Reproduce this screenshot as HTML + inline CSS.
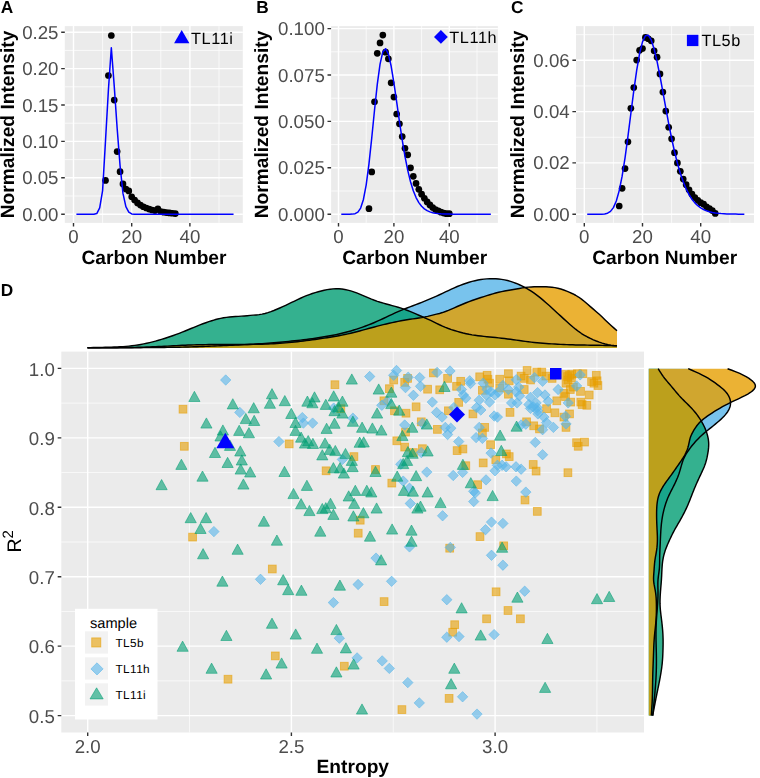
<!DOCTYPE html>
<html><head><meta charset="utf-8"><title>Figure</title>
<style>
html,body{margin:0;padding:0;background:#fff;}
svg{display:block;}
text{font-family:"Liberation Sans", sans-serif;text-rendering:geometricPrecision;}
.tk{font-size:18.7px;fill:#4d4d4d;}
.ttl{font-size:19.2px;font-weight:bold;fill:#000;}
.let{font-size:17.3px;font-weight:bold;fill:#000;}
.lg{font-size:16.3px;fill:#000;letter-spacing:0.6px;}
.lt{font-size:14.6px;fill:#000;}
.ll{font-size:11.8px;fill:#000;letter-spacing:0.4px;}
.r2{font-size:19.6px;fill:#000;}
.ps{fill:#E69F00;fill-opacity:.6;stroke:#E69F00;stroke-opacity:.6;stroke-width:.9;}
.pd{fill:#56B4E9;fill-opacity:.6;stroke:#56B4E9;stroke-opacity:.6;stroke-width:.9;}
.pt{fill:#009E73;fill-opacity:.6;stroke:#009E73;stroke-opacity:.6;stroke-width:.9;}
</style></head>
<body>
<svg width="760" height="778" viewBox="0 0 760 778">
<rect width="760" height="778" fill="#fff"/>
<g opacity="0.9999">
<rect x="64.8" y="26.1" width="178" height="196.8" fill="#ebebeb"/>
<path d="M102.6 26.1V222.9M160.8 26.1V222.9M219 26.1V222.9M64.8 196H242.8M64.8 159.6H242.8M64.8 123.2H242.8M64.8 86.8H242.8M64.8 50.4H242.8" stroke="#fff" stroke-width="0.7" fill="none"/>
<path d="M73.5 26.1V222.9M131.7 26.1V222.9M189.9 26.1V222.9M64.8 214.2H242.8M64.8 177.8H242.8M64.8 141.4H242.8M64.8 105H242.8M64.8 68.6H242.8M64.8 32.2H242.8" stroke="#fff" stroke-width="1.4" fill="none"/>
<path d="M73.5 222.9v3.6M131.7 222.9v3.6M189.9 222.9v3.6M64.8 214.2h-3.6M64.8 177.8h-3.6M64.8 141.4h-3.6M64.8 105h-3.6M64.8 68.6h-3.6M64.8 32.2h-3.6" stroke="#333333" stroke-width="1.4" fill="none"/>
<text x="73.5" y="243.1" text-anchor="middle" class="tk">0</text>
<text x="131.7" y="243.1" text-anchor="middle" class="tk">20</text>
<text x="189.9" y="243.1" text-anchor="middle" class="tk">40</text>
<text x="58.5" y="220.7" text-anchor="end" class="tk">0.00</text>
<text x="58.5" y="184.3" text-anchor="end" class="tk">0.05</text>
<text x="58.5" y="147.9" text-anchor="end" class="tk">0.10</text>
<text x="58.5" y="111.5" text-anchor="end" class="tk">0.15</text>
<text x="58.5" y="75.1" text-anchor="end" class="tk">0.20</text>
<text x="58.5" y="38.7" text-anchor="end" class="tk">0.25</text>
<text x="154" y="264.2" text-anchor="middle" class="ttl">Carbon Number</text>
<text transform="translate(14.3 124.5) rotate(-90)" text-anchor="middle" class="ttl">Normalized Intensity</text>
<text x="0.8" y="13.4" class="let">A</text>
<circle cx="105.51" cy="180.42" r="3.35"/>
<circle cx="108.42" cy="75.52" r="3.35"/>
<circle cx="111.33" cy="35.48" r="3.35"/>
<circle cx="114.24" cy="100.12" r="3.35"/>
<circle cx="117.15" cy="151.59" r="3.35"/>
<circle cx="120.06" cy="171.68" r="3.35"/>
<circle cx="122.97" cy="183.92" r="3.35"/>
<circle cx="125.88" cy="189.01" r="3.35"/>
<circle cx="128.79" cy="190.9" r="3.35"/>
<circle cx="131.7" cy="196.73" r="3.35"/>
<circle cx="134.61" cy="200" r="3.35"/>
<circle cx="137.52" cy="202.92" r="3.35"/>
<circle cx="140.43" cy="205.1" r="3.35"/>
<circle cx="143.34" cy="206.77" r="3.35"/>
<circle cx="146.25" cy="208.01" r="3.35"/>
<circle cx="149.16" cy="209.1" r="3.35"/>
<circle cx="152.07" cy="209.98" r="3.35"/>
<circle cx="154.98" cy="210.56" r="3.35"/>
<circle cx="157.89" cy="208.89" r="3.35"/>
<circle cx="160.8" cy="211.58" r="3.35"/>
<circle cx="163.71" cy="212.16" r="3.35"/>
<circle cx="166.62" cy="212.6" r="3.35"/>
<circle cx="169.53" cy="212.96" r="3.35"/>
<circle cx="172.44" cy="213.25" r="3.35"/>
<circle cx="175.35" cy="213.62" r="3.35"/>
<path d="M76.41 214.2L79.32 214.2L82.23 214.2L85.14 214.2L88.05 214.2L90.96 214.2L93.87 214.2L96.78 213.54L99.69 207.94L102.6 190.61L105.51 140.67L108.42 89.71L111.33 47.78L114.24 86.07L117.15 128.3L120.06 165.57L122.97 193.38L125.88 206.56L128.79 212.09L131.7 213.91L134.61 214.2L137.52 214.2L140.43 214.2L143.34 214.2L146.25 214.2L149.16 214.2L152.07 214.2L154.98 214.2L157.89 214.2L160.8 214.2L163.71 214.2L166.62 214.2L169.53 214.2L172.44 214.2L175.35 214.2L178.26 214.2L181.17 214.2L184.08 214.2L186.99 214.2L189.9 214.2L192.81 214.2L195.72 214.2L198.63 214.2L201.54 214.2L204.45 214.2L207.36 214.2L210.27 214.2L213.18 214.2L216.09 214.2L219 214.2L221.91 214.2L224.82 214.2L227.73 214.2L230.64 214.2L233.55 214.2" stroke="#0000ff" stroke-width="1.5" fill="none" stroke-linejoin="round"/>
<path d="M181.7 30.1L189.4 43.2H174.1Z" fill="#0000ff"/><text x="191" y="44.1" class="lg">TL11i</text>
<rect x="331.1" y="26.1" width="166.8" height="196.8" fill="#ebebeb"/>
<path d="M366.2 26.1V222.9M421.6 26.1V222.9M477 26.1V222.9M331.1 191H497.9M331.1 144.6H497.9M331.1 98.2H497.9M331.1 51.8H497.9" stroke="#fff" stroke-width="0.7" fill="none"/>
<path d="M338.5 26.1V222.9M393.9 26.1V222.9M449.3 26.1V222.9M331.1 214.2H497.9M331.1 167.8H497.9M331.1 121.4H497.9M331.1 75H497.9M331.1 28.6H497.9" stroke="#fff" stroke-width="1.4" fill="none"/>
<path d="M338.5 222.9v3.6M393.9 222.9v3.6M449.3 222.9v3.6M331.1 214.2h-3.6M331.1 167.8h-3.6M331.1 121.4h-3.6M331.1 75h-3.6M331.1 28.6h-3.6" stroke="#333333" stroke-width="1.4" fill="none"/>
<text x="338.5" y="243.1" text-anchor="middle" class="tk">0</text>
<text x="393.9" y="243.1" text-anchor="middle" class="tk">20</text>
<text x="449.3" y="243.1" text-anchor="middle" class="tk">40</text>
<text x="324.8" y="220.7" text-anchor="end" class="tk">0.000</text>
<text x="324.8" y="174.3" text-anchor="end" class="tk">0.025</text>
<text x="324.8" y="127.9" text-anchor="end" class="tk">0.050</text>
<text x="324.8" y="81.5" text-anchor="end" class="tk">0.075</text>
<text x="324.8" y="35.1" text-anchor="end" class="tk">0.100</text>
<text x="414.7" y="264.2" text-anchor="middle" class="ttl">Carbon Number</text>
<text transform="translate(268 124.5) rotate(-90)" text-anchor="middle" class="ttl">Normalized Intensity</text>
<text x="256.2" y="13.4" class="let">B</text>
<circle cx="368.97" cy="208.63" r="3.35"/>
<circle cx="371.74" cy="171.88" r="3.35"/>
<circle cx="374.51" cy="101.73" r="3.35"/>
<circle cx="377.28" cy="53.28" r="3.35"/>
<circle cx="380.05" cy="42.89" r="3.35"/>
<circle cx="382.82" cy="35.1" r="3.35"/>
<circle cx="385.59" cy="52.17" r="3.35"/>
<circle cx="388.36" cy="58.85" r="3.35"/>
<circle cx="391.13" cy="82.8" r="3.35"/>
<circle cx="393.9" cy="97.09" r="3.35"/>
<circle cx="396.67" cy="113.98" r="3.35"/>
<circle cx="399.44" cy="123.81" r="3.35"/>
<circle cx="402.21" cy="136.62" r="3.35"/>
<circle cx="404.98" cy="148.31" r="3.35"/>
<circle cx="407.75" cy="154.81" r="3.35"/>
<circle cx="410.52" cy="167.8" r="3.35"/>
<circle cx="413.29" cy="176.34" r="3.35"/>
<circle cx="416.06" cy="183.39" r="3.35"/>
<circle cx="418.83" cy="189.33" r="3.35"/>
<circle cx="421.6" cy="194.16" r="3.35"/>
<circle cx="424.37" cy="198.24" r="3.35"/>
<circle cx="427.14" cy="201.95" r="3.35"/>
<circle cx="429.91" cy="204.92" r="3.35"/>
<circle cx="432.68" cy="207.52" r="3.35"/>
<circle cx="435.45" cy="209.56" r="3.35"/>
<circle cx="438.22" cy="210.86" r="3.35"/>
<circle cx="440.99" cy="212.16" r="3.35"/>
<circle cx="443.76" cy="213.09" r="3.35"/>
<circle cx="446.53" cy="213.64" r="3.35"/>
<circle cx="449.3" cy="213.64" r="3.35"/>
<path d="M341.27 214.2L344.04 214.2L346.81 214.2L349.58 214.19L352.35 214.12L355.12 213.71L357.89 212.18L360.66 208.06L363.43 199.47L366.2 184.84L368.97 163.85L371.74 137.97L374.51 110.2L377.28 84.4L380.05 64.13L382.82 51.9L385.59 48.67L388.36 53.91L391.13 66.01L393.9 82.76L396.67 101.92L399.44 121.49L402.21 139.98L404.98 156.44L407.75 170.41L410.52 181.79L413.29 190.73L416.06 197.56L418.83 202.62L421.6 206.28L424.37 208.88L427.14 210.68L429.91 211.9L432.68 212.72L435.45 213.26L438.22 213.61L440.99 213.83L443.76 213.98L446.53 214.06L449.3 214.12L452.07 214.15L454.84 214.17L457.61 214.18L460.38 214.19L463.15 214.19L465.92 214.2L468.69 214.2L471.46 214.2L474.23 214.2L477 214.2L479.77 214.2L482.54 214.2L485.31 214.2L488.08 214.2L490.85 214.2" stroke="#0000ff" stroke-width="1.5" fill="none" stroke-linejoin="round"/>
<path d="M440.9 30L447.8 36.9L440.9 43.8L434 36.9Z" fill="#0000ff"/><text x="449.3" y="42.9" class="lg">TL11h</text>
<rect x="576" y="26.1" width="178" height="196.8" fill="#ebebeb"/>
<path d="M613.4 26.1V222.9M671.6 26.1V222.9M729.8 26.1V222.9M576 188.55H754M576 137.25H754M576 85.95H754M576 34.65H754" stroke="#fff" stroke-width="0.7" fill="none"/>
<path d="M584.3 26.1V222.9M642.5 26.1V222.9M700.7 26.1V222.9M576 214.2H754M576 162.9H754M576 111.6H754M576 60.3H754" stroke="#fff" stroke-width="1.4" fill="none"/>
<path d="M584.3 222.9v3.6M642.5 222.9v3.6M700.7 222.9v3.6M576 214.2h-3.6M576 162.9h-3.6M576 111.6h-3.6M576 60.3h-3.6" stroke="#333333" stroke-width="1.4" fill="none"/>
<text x="584.3" y="243.1" text-anchor="middle" class="tk">0</text>
<text x="642.5" y="243.1" text-anchor="middle" class="tk">20</text>
<text x="700.7" y="243.1" text-anchor="middle" class="tk">40</text>
<text x="569.7" y="220.7" text-anchor="end" class="tk">0.00</text>
<text x="569.7" y="169.4" text-anchor="end" class="tk">0.02</text>
<text x="569.7" y="118.1" text-anchor="end" class="tk">0.04</text>
<text x="569.7" y="66.8" text-anchor="end" class="tk">0.06</text>
<text x="664.7" y="264.2" text-anchor="middle" class="ttl">Carbon Number</text>
<text transform="translate(524 124.5) rotate(-90)" text-anchor="middle" class="ttl">Normalized Intensity</text>
<text x="511" y="13.4" class="let">C</text>
<circle cx="619.22" cy="205.99" r="3.35"/>
<circle cx="622.13" cy="188.29" r="3.35"/>
<circle cx="625.04" cy="168.54" r="3.35"/>
<circle cx="627.95" cy="141.87" r="3.35"/>
<circle cx="630.86" cy="108.27" r="3.35"/>
<circle cx="633.77" cy="87.49" r="3.35"/>
<circle cx="636.68" cy="60.04" r="3.35"/>
<circle cx="639.59" cy="50.3" r="3.35"/>
<circle cx="642.5" cy="48.5" r="3.35"/>
<circle cx="645.41" cy="37.47" r="3.35"/>
<circle cx="648.32" cy="38.75" r="3.35"/>
<circle cx="651.23" cy="40.81" r="3.35"/>
<circle cx="654.14" cy="50.81" r="3.35"/>
<circle cx="657.05" cy="57.22" r="3.35"/>
<circle cx="659.96" cy="73.89" r="3.35"/>
<circle cx="662.87" cy="92.11" r="3.35"/>
<circle cx="665.78" cy="111.09" r="3.35"/>
<circle cx="668.69" cy="127.25" r="3.35"/>
<circle cx="671.6" cy="138.79" r="3.35"/>
<circle cx="674.51" cy="152.64" r="3.35"/>
<circle cx="677.42" cy="162.9" r="3.35"/>
<circle cx="680.33" cy="171.36" r="3.35"/>
<circle cx="683.24" cy="179.06" r="3.35"/>
<circle cx="686.15" cy="184.7" r="3.35"/>
<circle cx="689.06" cy="189.83" r="3.35"/>
<circle cx="691.97" cy="194.19" r="3.35"/>
<circle cx="694.88" cy="197.53" r="3.35"/>
<circle cx="697.79" cy="200.35" r="3.35"/>
<circle cx="700.7" cy="202.66" r="3.35"/>
<circle cx="703.61" cy="204.2" r="3.35"/>
<circle cx="706.52" cy="206.76" r="3.35"/>
<circle cx="709.43" cy="208.56" r="3.35"/>
<circle cx="712.34" cy="210.61" r="3.35"/>
<circle cx="715.25" cy="213.43" r="3.35"/>
<path d="M587.21 214.2L590.12 214.2L593.03 214.2L595.94 214.2L598.85 214.19L601.76 214.13L604.67 213.9L607.58 213.16L610.49 211.34L613.4 207.59L616.31 200.96L619.22 190.62L622.13 176.17L625.04 157.79L627.95 136.4L630.86 113.47L633.77 90.81L636.68 70.32L639.59 53.61L642.5 41.88L645.41 35.74L648.32 35.24L651.23 39.92L654.14 48.98L657.05 61.38L659.96 76.02L662.87 91.86L665.78 107.96L668.69 123.61L671.6 138.24L674.51 151.51L677.42 163.21L680.33 173.3L683.24 181.82L686.15 188.88L689.06 194.63L691.97 199.23L694.88 202.87L697.79 205.71L700.7 207.9L703.61 209.56L706.52 210.82L709.43 211.75L712.34 212.44L715.25 212.95L718.16 213.31L721.07 213.58L723.98 213.76L726.89 213.9L729.8 213.99L732.71 214.06L735.62 214.1L738.53 214.13L741.44 214.15L744.35 214.17" stroke="#0000ff" stroke-width="1.5" fill="none" stroke-linejoin="round"/>
<rect x="686.9" y="34.8" width="11.5" height="11.3" fill="#0000ff"/><text x="701.4" y="46.4" class="lg">TL5b</text>
<text x="0.8" y="295.6" class="let">D</text>
<rect x="61.3" y="351.6" width="582.7" height="380.9" fill="#ebebeb"/>
<path d="M189.55 351.6V732.5M393.25 351.6V732.5M596.95 351.6V732.5M61.3 680.88H644M61.3 611.44H644M61.3 542H644M61.3 472.56H644M61.3 403.12H644" stroke="#fff" stroke-width="0.7" fill="none"/>
<path d="M87.7 351.6V732.5M291.4 351.6V732.5M495.1 351.6V732.5M61.3 715.6H644M61.3 646.16H644M61.3 576.72H644M61.3 507.28H644M61.3 437.84H644M61.3 368.4H644" stroke="#fff" stroke-width="1.4" fill="none"/>
<path d="M87.7 732.5v3.6M291.4 732.5v3.6M495.1 732.5v3.6M61.3 715.6h-3.6M61.3 646.16h-3.6M61.3 576.72h-3.6M61.3 507.28h-3.6M61.3 437.84h-3.6M61.3 368.4h-3.6" stroke="#333333" stroke-width="1.4" fill="none"/>
<text x="87.7" y="752.7" text-anchor="middle" class="tk">2.0</text>
<text x="291.4" y="752.7" text-anchor="middle" class="tk">2.5</text>
<text x="495.1" y="752.7" text-anchor="middle" class="tk">3.0</text>
<text x="54.8" y="722.9" text-anchor="end" class="tk">0.5</text>
<text x="54.8" y="653.46" text-anchor="end" class="tk">0.6</text>
<text x="54.8" y="584.02" text-anchor="end" class="tk">0.7</text>
<text x="54.8" y="514.58" text-anchor="end" class="tk">0.8</text>
<text x="54.8" y="445.14" text-anchor="end" class="tk">0.9</text>
<text x="54.8" y="375.7" text-anchor="end" class="tk">1.0</text>
<text x="352.8" y="773.4" text-anchor="middle" class="ttl">Entropy</text>
<text transform="translate(21.3 552.6) rotate(-90)" class="r2">R<tspan dy="-8.7" font-size="15">2</tspan></text>
<rect x="179.1" y="405.3" width="7.8" height="7.8" class="ps"/>
<rect x="180.4" y="442.4" width="7.8" height="7.8" class="ps"/>
<rect x="331" y="380.8" width="7.8" height="7.8" class="ps"/>
<rect x="336.9" y="404.8" width="7.8" height="7.8" class="ps"/>
<rect x="380" y="396.9" width="7.8" height="7.8" class="ps"/>
<rect x="385.5" y="384.8" width="7.8" height="7.8" class="ps"/>
<rect x="389.8" y="376.1" width="7.8" height="7.8" class="ps"/>
<rect x="390.6" y="406.9" width="7.8" height="7.8" class="ps"/>
<rect x="402.1" y="409.3" width="7.8" height="7.8" class="ps"/>
<rect x="412.2" y="402.9" width="7.8" height="7.8" class="ps"/>
<rect x="400.8" y="378.5" width="7.8" height="7.8" class="ps"/>
<rect x="403.7" y="374.5" width="7.8" height="7.8" class="ps"/>
<rect x="423.7" y="385.3" width="7.8" height="7.8" class="ps"/>
<rect x="417.4" y="417.9" width="7.8" height="7.8" class="ps"/>
<rect x="429.5" y="369" width="7.8" height="7.8" class="ps"/>
<rect x="443.7" y="374.5" width="7.8" height="7.8" class="ps"/>
<rect x="435.8" y="385.9" width="7.8" height="7.8" class="ps"/>
<rect x="452.7" y="382.4" width="7.8" height="7.8" class="ps"/>
<rect x="456.8" y="377.4" width="7.8" height="7.8" class="ps"/>
<rect x="454.8" y="398.5" width="7.8" height="7.8" class="ps"/>
<rect x="444.5" y="406.9" width="7.8" height="7.8" class="ps"/>
<rect x="469" y="410" width="7.8" height="7.8" class="ps"/>
<rect x="475.8" y="372.9" width="7.8" height="7.8" class="ps"/>
<rect x="483.2" y="371.4" width="7.8" height="7.8" class="ps"/>
<rect x="484" y="375.3" width="7.8" height="7.8" class="ps"/>
<rect x="485.6" y="379.3" width="7.8" height="7.8" class="ps"/>
<rect x="478.5" y="386.4" width="7.8" height="7.8" class="ps"/>
<rect x="495.8" y="375.3" width="7.8" height="7.8" class="ps"/>
<rect x="495.8" y="384" width="7.8" height="7.8" class="ps"/>
<rect x="504.5" y="369.8" width="7.8" height="7.8" class="ps"/>
<rect x="505.3" y="376.9" width="7.8" height="7.8" class="ps"/>
<rect x="504.5" y="390.3" width="7.8" height="7.8" class="ps"/>
<rect x="506.1" y="408.5" width="7.8" height="7.8" class="ps"/>
<rect x="517.2" y="372.2" width="7.8" height="7.8" class="ps"/>
<rect x="520.3" y="374.5" width="7.8" height="7.8" class="ps"/>
<rect x="523.2" y="366.6" width="7.8" height="7.8" class="ps"/>
<rect x="526.6" y="376.1" width="7.8" height="7.8" class="ps"/>
<rect x="532.9" y="368.2" width="7.8" height="7.8" class="ps"/>
<rect x="520.3" y="385.6" width="7.8" height="7.8" class="ps"/>
<rect x="522.7" y="417.9" width="7.8" height="7.8" class="ps"/>
<rect x="529.8" y="421.9" width="7.8" height="7.8" class="ps"/>
<rect x="480.8" y="423.5" width="7.8" height="7.8" class="ps"/>
<rect x="433.5" y="425.5" width="7.8" height="7.8" class="ps"/>
<rect x="537.9" y="368.2" width="7.8" height="7.8" class="ps"/>
<rect x="541.9" y="372.2" width="7.8" height="7.8" class="ps"/>
<rect x="548.2" y="374.5" width="7.8" height="7.8" class="ps"/>
<rect x="561.6" y="370.6" width="7.8" height="7.8" class="ps"/>
<rect x="565.6" y="371.4" width="7.8" height="7.8" class="ps"/>
<rect x="564" y="376.1" width="7.8" height="7.8" class="ps"/>
<rect x="562.1" y="379.3" width="7.8" height="7.8" class="ps"/>
<rect x="567.5" y="374.2" width="7.8" height="7.8" class="ps"/>
<rect x="573.5" y="369.8" width="7.8" height="7.8" class="ps"/>
<rect x="579" y="369.8" width="7.8" height="7.8" class="ps"/>
<rect x="569.5" y="383.2" width="7.8" height="7.8" class="ps"/>
<rect x="576.6" y="387.5" width="7.8" height="7.8" class="ps"/>
<rect x="566.4" y="385.6" width="7.8" height="7.8" class="ps"/>
<rect x="560" y="389.5" width="7.8" height="7.8" class="ps"/>
<rect x="561.6" y="392.7" width="7.8" height="7.8" class="ps"/>
<rect x="585.3" y="391.1" width="7.8" height="7.8" class="ps"/>
<rect x="587.7" y="377.7" width="7.8" height="7.8" class="ps"/>
<rect x="592.4" y="371.4" width="7.8" height="7.8" class="ps"/>
<rect x="593.2" y="376.9" width="7.8" height="7.8" class="ps"/>
<rect x="594" y="381.6" width="7.8" height="7.8" class="ps"/>
<rect x="590" y="379.3" width="7.8" height="7.8" class="ps"/>
<rect x="552.9" y="396.9" width="7.8" height="7.8" class="ps"/>
<rect x="566.8" y="398.2" width="7.8" height="7.8" class="ps"/>
<rect x="576.9" y="398.2" width="7.8" height="7.8" class="ps"/>
<rect x="582.9" y="401.4" width="7.8" height="7.8" class="ps"/>
<rect x="578.2" y="400.6" width="7.8" height="7.8" class="ps"/>
<rect x="542.7" y="404.8" width="7.8" height="7.8" class="ps"/>
<rect x="551" y="408.9" width="7.8" height="7.8" class="ps"/>
<rect x="535.6" y="425" width="7.8" height="7.8" class="ps"/>
<rect x="565.6" y="410" width="7.8" height="7.8" class="ps"/>
<rect x="560" y="413.2" width="7.8" height="7.8" class="ps"/>
<rect x="562.1" y="423.5" width="7.8" height="7.8" class="ps"/>
<rect x="285.3" y="440" width="7.8" height="7.8" class="ps"/>
<rect x="350" y="452.7" width="7.8" height="7.8" class="ps"/>
<rect x="322.2" y="466.9" width="7.8" height="7.8" class="ps"/>
<rect x="371.6" y="465.6" width="7.8" height="7.8" class="ps"/>
<rect x="392.9" y="436.9" width="7.8" height="7.8" class="ps"/>
<rect x="401.6" y="428.2" width="7.8" height="7.8" class="ps"/>
<rect x="400.8" y="443.2" width="7.8" height="7.8" class="ps"/>
<rect x="409.5" y="448.7" width="7.8" height="7.8" class="ps"/>
<rect x="418.5" y="444.8" width="7.8" height="7.8" class="ps"/>
<rect x="387.9" y="479.2" width="7.8" height="7.8" class="ps"/>
<rect x="453.2" y="446.7" width="7.8" height="7.8" class="ps"/>
<rect x="459" y="445.1" width="7.8" height="7.8" class="ps"/>
<rect x="461.9" y="461.8" width="7.8" height="7.8" class="ps"/>
<rect x="479.3" y="459" width="7.8" height="7.8" class="ps"/>
<rect x="478.5" y="429" width="7.8" height="7.8" class="ps"/>
<rect x="486.7" y="440.8" width="7.8" height="7.8" class="ps"/>
<rect x="502.5" y="450" width="7.8" height="7.8" class="ps"/>
<rect x="505.3" y="452.7" width="7.8" height="7.8" class="ps"/>
<rect x="491.9" y="455.8" width="7.8" height="7.8" class="ps"/>
<rect x="529.3" y="460.6" width="7.8" height="7.8" class="ps"/>
<rect x="532.2" y="467.2" width="7.8" height="7.8" class="ps"/>
<rect x="473.7" y="480.8" width="7.8" height="7.8" class="ps"/>
<rect x="521.1" y="496.1" width="7.8" height="7.8" class="ps"/>
<rect x="572.7" y="438.8" width="7.8" height="7.8" class="ps"/>
<rect x="574.3" y="442.4" width="7.8" height="7.8" class="ps"/>
<rect x="580.6" y="438.2" width="7.8" height="7.8" class="ps"/>
<rect x="564" y="468.8" width="7.8" height="7.8" class="ps"/>
<rect x="188.7" y="533.2" width="7.8" height="7.8" class="ps"/>
<rect x="268.4" y="565.1" width="7.8" height="7.8" class="ps"/>
<rect x="356.3" y="516.3" width="7.8" height="7.8" class="ps"/>
<rect x="354.3" y="529.3" width="7.8" height="7.8" class="ps"/>
<rect x="476.1" y="532.7" width="7.8" height="7.8" class="ps"/>
<rect x="533.4" y="507.5" width="7.8" height="7.8" class="ps"/>
<rect x="445.8" y="544.3" width="7.8" height="7.8" class="ps"/>
<rect x="499.8" y="541.9" width="7.8" height="7.8" class="ps"/>
<rect x="271.4" y="652" width="7.8" height="7.8" class="ps"/>
<rect x="380.2" y="597.7" width="7.8" height="7.8" class="ps"/>
<rect x="340.4" y="662.3" width="7.8" height="7.8" class="ps"/>
<rect x="492.2" y="587.9" width="7.8" height="7.8" class="ps"/>
<rect x="504.1" y="606.6" width="7.8" height="7.8" class="ps"/>
<rect x="482.7" y="614.9" width="7.8" height="7.8" class="ps"/>
<rect x="516.5" y="614.9" width="7.8" height="7.8" class="ps"/>
<rect x="450.8" y="620.8" width="7.8" height="7.8" class="ps"/>
<rect x="448.8" y="628.3" width="7.8" height="7.8" class="ps"/>
<rect x="224.1" y="675.3" width="7.8" height="7.8" class="ps"/>
<rect x="398" y="705.7" width="7.8" height="7.8" class="ps"/>
<rect x="445.2" y="694.5" width="7.8" height="7.8" class="ps"/>
<rect x="563.7" y="372.7" width="7.8" height="7.8" class="ps"/>
<rect x="567.8" y="370.3" width="7.8" height="7.8" class="ps"/>
<path d="M225.7 374.8l5.2 5.2l-5.2 5.2l-5.2-5.2Z" class="pd"/>
<path d="M239.8 407.2l5.2 5.2l-5.2 5.2l-5.2-5.2Z" class="pd"/>
<path d="M302.3 412.4l5.2 5.2l-5.2 5.2l-5.2-5.2Z" class="pd"/>
<path d="M303.4 417.9l5.2 5.2l-5.2 5.2l-5.2-5.2Z" class="pd"/>
<path d="M312.6 417.9l5.2 5.2l-5.2 5.2l-5.2-5.2Z" class="pd"/>
<path d="M369.7 371.3l5.2 5.2l-5.2 5.2l-5.2-5.2Z" class="pd"/>
<path d="M333.7 402.9l5.2 5.2l-5.2 5.2l-5.2-5.2Z" class="pd"/>
<path d="M352.9 413l5.2 5.2l-5.2 5.2l-5.2-5.2Z" class="pd"/>
<path d="M381.8 400.1l5.2 5.2l-5.2 5.2l-5.2-5.2Z" class="pd"/>
<path d="M387.4 396.1l5.2 5.2l-5.2 5.2l-5.2-5.2Z" class="pd"/>
<path d="M393.7 370.1l5.2 5.2l-5.2 5.2l-5.2-5.2Z" class="pd"/>
<path d="M396.5 365.3l5.2 5.2l-5.2 5.2l-5.2-5.2Z" class="pd"/>
<path d="M413.4 390.1l5.2 5.2l-5.2 5.2l-5.2-5.2Z" class="pd"/>
<path d="M405.5 382.4l5.2 5.2l-5.2 5.2l-5.2-5.2Z" class="pd"/>
<path d="M408.2 372l5.2 5.2l-5.2 5.2l-5.2-5.2Z" class="pd"/>
<path d="M419.7 372.4l5.2 5.2l-5.2 5.2l-5.2-5.2Z" class="pd"/>
<path d="M420.5 381.1l5.2 5.2l-5.2 5.2l-5.2-5.2Z" class="pd"/>
<path d="M404.7 419.8l5.2 5.2l-5.2 5.2l-5.2-5.2Z" class="pd"/>
<path d="M422.4 418.2l5.2 5.2l-5.2 5.2l-5.2-5.2Z" class="pd"/>
<path d="M437.1 367.2l5.2 5.2l-5.2 5.2l-5.2-5.2Z" class="pd"/>
<path d="M450 365.8l5.2 5.2l-5.2 5.2l-5.2-5.2Z" class="pd"/>
<path d="M469.7 375.6l5.2 5.2l-5.2 5.2l-5.2-5.2Z" class="pd"/>
<path d="M470.5 378.3l5.2 5.2l-5.2 5.2l-5.2-5.2Z" class="pd"/>
<path d="M461.4 384.3l5.2 5.2l-5.2 5.2l-5.2-5.2Z" class="pd"/>
<path d="M463.4 389.8l5.2 5.2l-5.2 5.2l-5.2-5.2Z" class="pd"/>
<path d="M465.8 393l5.2 5.2l-5.2 5.2l-5.2-5.2Z" class="pd"/>
<path d="M432.3 396.9l5.2 5.2l-5.2 5.2l-5.2-5.2Z" class="pd"/>
<path d="M436.6 407.2l5.2 5.2l-5.2 5.2l-5.2-5.2Z" class="pd"/>
<path d="M442.1 411.9l5.2 5.2l-5.2 5.2l-5.2-5.2Z" class="pd"/>
<path d="M453.9 402.4l5.2 5.2l-5.2 5.2l-5.2-5.2Z" class="pd"/>
<path d="M476.5 402.4l5.2 5.2l-5.2 5.2l-5.2-5.2Z" class="pd"/>
<path d="M480.8 404.8l5.2 5.2l-5.2 5.2l-5.2-5.2Z" class="pd"/>
<path d="M479.2 395l5.2 5.2l-5.2 5.2l-5.2-5.2Z" class="pd"/>
<path d="M486.3 389.8l5.2 5.2l-5.2 5.2l-5.2-5.2Z" class="pd"/>
<path d="M489.5 396.9l5.2 5.2l-5.2 5.2l-5.2-5.2Z" class="pd"/>
<path d="M483.2 378l5.2 5.2l-5.2 5.2l-5.2-5.2Z" class="pd"/>
<path d="M487.1 384.3l5.2 5.2l-5.2 5.2l-5.2-5.2Z" class="pd"/>
<path d="M491.1 386.6l5.2 5.2l-5.2 5.2l-5.2-5.2Z" class="pd"/>
<path d="M495 389.8l5.2 5.2l-5.2 5.2l-5.2-5.2Z" class="pd"/>
<path d="M498.2 387.1l5.2 5.2l-5.2 5.2l-5.2-5.2Z" class="pd"/>
<path d="M502.9 380.3l5.2 5.2l-5.2 5.2l-5.2-5.2Z" class="pd"/>
<path d="M508.4 384.3l5.2 5.2l-5.2 5.2l-5.2-5.2Z" class="pd"/>
<path d="M511.6 397.7l5.2 5.2l-5.2 5.2l-5.2-5.2Z" class="pd"/>
<path d="M517.1 397.7l5.2 5.2l-5.2 5.2l-5.2-5.2Z" class="pd"/>
<path d="M494.2 410.8l5.2 5.2l-5.2 5.2l-5.2-5.2Z" class="pd"/>
<path d="M497.4 411.9l5.2 5.2l-5.2 5.2l-5.2-5.2Z" class="pd"/>
<path d="M516.3 374.5l5.2 5.2l-5.2 5.2l-5.2-5.2Z" class="pd"/>
<path d="M534.5 372.4l5.2 5.2l-5.2 5.2l-5.2-5.2Z" class="pd"/>
<path d="M518.7 381.9l5.2 5.2l-5.2 5.2l-5.2-5.2Z" class="pd"/>
<path d="M516.3 386.6l5.2 5.2l-5.2 5.2l-5.2-5.2Z" class="pd"/>
<path d="M519.5 390.6l5.2 5.2l-5.2 5.2l-5.2-5.2Z" class="pd"/>
<path d="M530.5 392.2l5.2 5.2l-5.2 5.2l-5.2-5.2Z" class="pd"/>
<path d="M537.6 387.4l5.2 5.2l-5.2 5.2l-5.2-5.2Z" class="pd"/>
<path d="M536.1 397.7l5.2 5.2l-5.2 5.2l-5.2-5.2Z" class="pd"/>
<path d="M530.5 403.2l5.2 5.2l-5.2 5.2l-5.2-5.2Z" class="pd"/>
<path d="M537.6 405.6l5.2 5.2l-5.2 5.2l-5.2-5.2Z" class="pd"/>
<path d="M528.9 399.3l5.2 5.2l-5.2 5.2l-5.2-5.2Z" class="pd"/>
<path d="M521.1 419.8l5.2 5.2l-5.2 5.2l-5.2-5.2Z" class="pd"/>
<path d="M525.8 419l5.2 5.2l-5.2 5.2l-5.2-5.2Z" class="pd"/>
<path d="M479.2 422.2l5.2 5.2l-5.2 5.2l-5.2-5.2Z" class="pd"/>
<path d="M445.3 422.2l5.2 5.2l-5.2 5.2l-5.2-5.2Z" class="pd"/>
<path d="M450.8 423l5.2 5.2l-5.2 5.2l-5.2-5.2Z" class="pd"/>
<path d="M542.6 376.1l5.2 5.2l-5.2 5.2l-5.2-5.2Z" class="pd"/>
<path d="M580.2 369.7l5.2 5.2l-5.2 5.2l-5.2-5.2Z" class="pd"/>
<path d="M576.6 380.8l5.2 5.2l-5.2 5.2l-5.2-5.2Z" class="pd"/>
<path d="M558.1 384.3l5.2 5.2l-5.2 5.2l-5.2-5.2Z" class="pd"/>
<path d="M545 389.8l5.2 5.2l-5.2 5.2l-5.2-5.2Z" class="pd"/>
<path d="M548.2 396.1l5.2 5.2l-5.2 5.2l-5.2-5.2Z" class="pd"/>
<path d="M568.2 397.7l5.2 5.2l-5.2 5.2l-5.2-5.2Z" class="pd"/>
<path d="M533.2 401.6l5.2 5.2l-5.2 5.2l-5.2-5.2Z" class="pd"/>
<path d="M537.1 402.4l5.2 5.2l-5.2 5.2l-5.2-5.2Z" class="pd"/>
<path d="M537.9 408.7l5.2 5.2l-5.2 5.2l-5.2-5.2Z" class="pd"/>
<path d="M543.9 411.9l5.2 5.2l-5.2 5.2l-5.2-5.2Z" class="pd"/>
<path d="M546.6 417.4l5.2 5.2l-5.2 5.2l-5.2-5.2Z" class="pd"/>
<path d="M553.4 422.2l5.2 5.2l-5.2 5.2l-5.2-5.2Z" class="pd"/>
<path d="M565.5 411.1l5.2 5.2l-5.2 5.2l-5.2-5.2Z" class="pd"/>
<path d="M566 418.7l5.2 5.2l-5.2 5.2l-5.2-5.2Z" class="pd"/>
<path d="M542.6 424.5l5.2 5.2l-5.2 5.2l-5.2-5.2Z" class="pd"/>
<path d="M278.9 436.4l5.2 5.2l-5.2 5.2l-5.2-5.2Z" class="pd"/>
<path d="M342.4 454.2l5.2 5.2l-5.2 5.2l-5.2-5.2Z" class="pd"/>
<path d="M421.3 447.4l5.2 5.2l-5.2 5.2l-5.2-5.2Z" class="pd"/>
<path d="M400.8 459l5.2 5.2l-5.2 5.2l-5.2-5.2Z" class="pd"/>
<path d="M403.2 475.9l5.2 5.2l-5.2 5.2l-5.2-5.2Z" class="pd"/>
<path d="M426.8 466.9l5.2 5.2l-5.2 5.2l-5.2-5.2Z" class="pd"/>
<path d="M409.5 483l5.2 5.2l-5.2 5.2l-5.2-5.2Z" class="pd"/>
<path d="M410.3 498.3l5.2 5.2l-5.2 5.2l-5.2-5.2Z" class="pd"/>
<path d="M447.6 429.3l5.2 5.2l-5.2 5.2l-5.2-5.2Z" class="pd"/>
<path d="M458.7 436.4l5.2 5.2l-5.2 5.2l-5.2-5.2Z" class="pd"/>
<path d="M462.6 467.2l5.2 5.2l-5.2 5.2l-5.2-5.2Z" class="pd"/>
<path d="M453.2 470.3l5.2 5.2l-5.2 5.2l-5.2-5.2Z" class="pd"/>
<path d="M476.1 432.4l5.2 5.2l-5.2 5.2l-5.2-5.2Z" class="pd"/>
<path d="M482.4 433.2l5.2 5.2l-5.2 5.2l-5.2-5.2Z" class="pd"/>
<path d="M491.1 447.9l5.2 5.2l-5.2 5.2l-5.2-5.2Z" class="pd"/>
<path d="M497.4 460.1l5.2 5.2l-5.2 5.2l-5.2-5.2Z" class="pd"/>
<path d="M495 465.6l5.2 5.2l-5.2 5.2l-5.2-5.2Z" class="pd"/>
<path d="M502.1 460.1l5.2 5.2l-5.2 5.2l-5.2-5.2Z" class="pd"/>
<path d="M506.1 461.6l5.2 5.2l-5.2 5.2l-5.2-5.2Z" class="pd"/>
<path d="M516 461.6l5.2 5.2l-5.2 5.2l-5.2-5.2Z" class="pd"/>
<path d="M521.1 464l5.2 5.2l-5.2 5.2l-5.2-5.2Z" class="pd"/>
<path d="M516.3 475.9l5.2 5.2l-5.2 5.2l-5.2-5.2Z" class="pd"/>
<path d="M535.3 437.2l5.2 5.2l-5.2 5.2l-5.2-5.2Z" class="pd"/>
<path d="M486 474.7l5.2 5.2l-5.2 5.2l-5.2-5.2Z" class="pd"/>
<path d="M473.7 486.1l5.2 5.2l-5.2 5.2l-5.2-5.2Z" class="pd"/>
<path d="M475.3 487.7l5.2 5.2l-5.2 5.2l-5.2-5.2Z" class="pd"/>
<path d="M473.7 496.4l5.2 5.2l-5.2 5.2l-5.2-5.2Z" class="pd"/>
<path d="M525.8 486.9l5.2 5.2l-5.2 5.2l-5.2-5.2Z" class="pd"/>
<path d="M542.6 449.5l5.2 5.2l-5.2 5.2l-5.2-5.2Z" class="pd"/>
<path d="M213.9 526.4l5.2 5.2l-5.2 5.2l-5.2-5.2Z" class="pd"/>
<path d="M409.5 541.7l5.2 5.2l-5.2 5.2l-5.2-5.2Z" class="pd"/>
<path d="M376 552.9l5.2 5.2l-5.2 5.2l-5.2-5.2Z" class="pd"/>
<path d="M442.6 510.6l5.2 5.2l-5.2 5.2l-5.2-5.2Z" class="pd"/>
<path d="M491.5 516.9l5.2 5.2l-5.2 5.2l-5.2-5.2Z" class="pd"/>
<path d="M502.9 518.2l5.2 5.2l-5.2 5.2l-5.2-5.2Z" class="pd"/>
<path d="M485.5 524.5l5.2 5.2l-5.2 5.2l-5.2-5.2Z" class="pd"/>
<path d="M450.3 542.2l5.2 5.2l-5.2 5.2l-5.2-5.2Z" class="pd"/>
<path d="M491.5 550.1l5.2 5.2l-5.2 5.2l-5.2-5.2Z" class="pd"/>
<path d="M502.9 560l5.2 5.2l-5.2 5.2l-5.2-5.2Z" class="pd"/>
<path d="M260.5 574.1l5.2 5.2l-5.2 5.2l-5.2-5.2Z" class="pd"/>
<path d="M358.1 579.3l5.2 5.2l-5.2 5.2l-5.2-5.2Z" class="pd"/>
<path d="M391.6 576.1l5.2 5.2l-5.2 5.2l-5.2-5.2Z" class="pd"/>
<path d="M333.4 597.4l5.2 5.2l-5.2 5.2l-5.2-5.2Z" class="pd"/>
<path d="M339.3 633l5.2 5.2l-5.2 5.2l-5.2-5.2Z" class="pd"/>
<path d="M357.1 652.7l5.2 5.2l-5.2 5.2l-5.2-5.2Z" class="pd"/>
<path d="M382.2 655.7l5.2 5.2l-5.2 5.2l-5.2-5.2Z" class="pd"/>
<path d="M389.3 663.2l5.2 5.2l-5.2 5.2l-5.2-5.2Z" class="pd"/>
<path d="M446.8 594.5l5.2 5.2l-5.2 5.2l-5.2-5.2Z" class="pd"/>
<path d="M524.7 586l5.2 5.2l-5.2 5.2l-5.2-5.2Z" class="pd"/>
<path d="M446.8 632l5.2 5.2l-5.2 5.2l-5.2-5.2Z" class="pd"/>
<path d="M459 631.4l5.2 5.2l-5.2 5.2l-5.2-5.2Z" class="pd"/>
<path d="M494.1 629.4l5.2 5.2l-5.2 5.2l-5.2-5.2Z" class="pd"/>
<path d="M407.8 677.4l5.2 5.2l-5.2 5.2l-5.2-5.2Z" class="pd"/>
<path d="M419.3 697.7l5.2 5.2l-5.2 5.2l-5.2-5.2Z" class="pd"/>
<path d="M462.6 691.6l5.2 5.2l-5.2 5.2l-5.2-5.2Z" class="pd"/>
<path d="M477 708.9l5.2 5.2l-5.2 5.2l-5.2-5.2Z" class="pd"/>
<path d="M194.4 391.3l5.6 10.2h-11.2Z" class="pt"/>
<path d="M206.4 417.9l5.6 10.2h-11.2Z" class="pt"/>
<path d="M272 388.6l5.6 10.2h-11.2Z" class="pt"/>
<path d="M269.9 398.1l5.6 10.2h-11.2Z" class="pt"/>
<path d="M284.8 395.5l5.6 10.2h-11.2Z" class="pt"/>
<path d="M232.8 398.7l5.6 10.2h-11.2Z" class="pt"/>
<path d="M253.7 402.6l5.6 10.2h-11.2Z" class="pt"/>
<path d="M245.8 413.4l5.6 10.2h-11.2Z" class="pt"/>
<path d="M254.2 415.3l5.6 10.2h-11.2Z" class="pt"/>
<path d="M222.9 424.9l5.6 10.2h-11.2Z" class="pt"/>
<path d="M239.2 425.2l5.6 10.2h-11.2Z" class="pt"/>
<path d="M248.9 427.6l5.6 10.2h-11.2Z" class="pt"/>
<path d="M291.3 408.3l5.6 10.2h-11.2Z" class="pt"/>
<path d="M295.5 417.3l5.6 10.2h-11.2Z" class="pt"/>
<path d="M295.5 425.2l5.6 10.2h-11.2Z" class="pt"/>
<path d="M307.4 396l5.6 10.2h-11.2Z" class="pt"/>
<path d="M312.4 397.6l5.6 10.2h-11.2Z" class="pt"/>
<path d="M314.5 391.8l5.6 10.2h-11.2Z" class="pt"/>
<path d="M351.8 373.9l5.6 10.2h-11.2Z" class="pt"/>
<path d="M378.7 383.9l5.6 10.2h-11.2Z" class="pt"/>
<path d="M333.7 390.8l5.6 10.2h-11.2Z" class="pt"/>
<path d="M325.8 399.2l5.6 10.2h-11.2Z" class="pt"/>
<path d="M342.4 396l5.6 10.2h-11.2Z" class="pt"/>
<path d="M338.4 401.5l5.6 10.2h-11.2Z" class="pt"/>
<path d="M334.5 405.5l5.6 10.2h-11.2Z" class="pt"/>
<path d="M342.4 407.9l5.6 10.2h-11.2Z" class="pt"/>
<path d="M352.9 416.1l5.6 10.2h-11.2Z" class="pt"/>
<path d="M334.5 418.1l5.6 10.2h-11.2Z" class="pt"/>
<path d="M326.6 423.2l5.6 10.2h-11.2Z" class="pt"/>
<path d="M362.1 422.1l5.6 10.2h-11.2Z" class="pt"/>
<path d="M372.4 422.9l5.6 10.2h-11.2Z" class="pt"/>
<path d="M381.4 424.9l5.6 10.2h-11.2Z" class="pt"/>
<path d="M377.1 407.9l5.6 10.2h-11.2Z" class="pt"/>
<path d="M391.3 387l5.6 10.2h-11.2Z" class="pt"/>
<path d="M391.3 398.4l5.6 10.2h-11.2Z" class="pt"/>
<path d="M399.2 405l5.6 10.2h-11.2Z" class="pt"/>
<path d="M412.3 422.1l5.6 10.2h-11.2Z" class="pt"/>
<path d="M426.8 418.9l5.6 10.2h-11.2Z" class="pt"/>
<path d="M444.5 381.3l5.6 10.2h-11.2Z" class="pt"/>
<path d="M516.6 421l5.6 10.2h-11.2Z" class="pt"/>
<path d="M181.4 459.2l5.6 10.2h-11.2Z" class="pt"/>
<path d="M161.6 479.5l5.6 10.2h-11.2Z" class="pt"/>
<path d="M202.5 471l5.6 10.2h-11.2Z" class="pt"/>
<path d="M190.7 512.5l5.6 10.2h-11.2Z" class="pt"/>
<path d="M206.1 512.5l5.6 10.2h-11.2Z" class="pt"/>
<path d="M220.5 430.8l5.6 10.2h-11.2Z" class="pt"/>
<path d="M230 440.2l5.6 10.2h-11.2Z" class="pt"/>
<path d="M215 447.3l5.6 10.2h-11.2Z" class="pt"/>
<path d="M240.3 445.8l5.6 10.2h-11.2Z" class="pt"/>
<path d="M241.8 454.8l5.6 10.2h-11.2Z" class="pt"/>
<path d="M227.6 457.3l5.6 10.2h-11.2Z" class="pt"/>
<path d="M240.7 463.9l5.6 10.2h-11.2Z" class="pt"/>
<path d="M250.2 466.8l5.6 10.2h-11.2Z" class="pt"/>
<path d="M243.4 478.9l5.6 10.2h-11.2Z" class="pt"/>
<path d="M284.5 466.3l5.6 10.2h-11.2Z" class="pt"/>
<path d="M301.1 432l5.6 10.2h-11.2Z" class="pt"/>
<path d="M305 437.9l5.6 10.2h-11.2Z" class="pt"/>
<path d="M308.2 435.5l5.6 10.2h-11.2Z" class="pt"/>
<path d="M312.9 438.3l5.6 10.2h-11.2Z" class="pt"/>
<path d="M306.9 480.2l5.6 10.2h-11.2Z" class="pt"/>
<path d="M293.5 488.4l5.6 10.2h-11.2Z" class="pt"/>
<path d="M301.1 498.6l5.6 10.2h-11.2Z" class="pt"/>
<path d="M325 437.9l5.6 10.2h-11.2Z" class="pt"/>
<path d="M329.7 444.2l5.6 10.2h-11.2Z" class="pt"/>
<path d="M335.3 445.4l5.6 10.2h-11.2Z" class="pt"/>
<path d="M322.3 449.7l5.6 10.2h-11.2Z" class="pt"/>
<path d="M345.5 448.4l5.6 10.2h-11.2Z" class="pt"/>
<path d="M351.8 455.2l5.6 10.2h-11.2Z" class="pt"/>
<path d="M352.6 461.5l5.6 10.2h-11.2Z" class="pt"/>
<path d="M333.4 462.6l5.6 10.2h-11.2Z" class="pt"/>
<path d="M340 462.6l5.6 10.2h-11.2Z" class="pt"/>
<path d="M343.9 467.9l5.6 10.2h-11.2Z" class="pt"/>
<path d="M359.7 437.1l5.6 10.2h-11.2Z" class="pt"/>
<path d="M363.7 436.8l5.6 10.2h-11.2Z" class="pt"/>
<path d="M375.5 466.3l5.6 10.2h-11.2Z" class="pt"/>
<path d="M355.3 485.2l5.6 10.2h-11.2Z" class="pt"/>
<path d="M348.7 490.8l5.6 10.2h-11.2Z" class="pt"/>
<path d="M366.8 485.2l5.6 10.2h-11.2Z" class="pt"/>
<path d="M371.3 486.8l5.6 10.2h-11.2Z" class="pt"/>
<path d="M330.5 498.2l5.6 10.2h-11.2Z" class="pt"/>
<path d="M354.2 498.2l5.6 10.2h-11.2Z" class="pt"/>
<path d="M402.4 430.4l5.6 10.2h-11.2Z" class="pt"/>
<path d="M407.9 446.5l5.6 10.2h-11.2Z" class="pt"/>
<path d="M412.6 448.1l5.6 10.2h-11.2Z" class="pt"/>
<path d="M427.6 445.8l5.6 10.2h-11.2Z" class="pt"/>
<path d="M403.2 458.4l5.6 10.2h-11.2Z" class="pt"/>
<path d="M407.1 455.2l5.6 10.2h-11.2Z" class="pt"/>
<path d="M397.2 471l5.6 10.2h-11.2Z" class="pt"/>
<path d="M416.1 470.5l5.6 10.2h-11.2Z" class="pt"/>
<path d="M403.9 485.2l5.6 10.2h-11.2Z" class="pt"/>
<path d="M412.9 486l5.6 10.2h-11.2Z" class="pt"/>
<path d="M427.6 486.8l5.6 10.2h-11.2Z" class="pt"/>
<path d="M420.5 501l5.6 10.2h-11.2Z" class="pt"/>
<path d="M462.9 459.2l5.6 10.2h-11.2Z" class="pt"/>
<path d="M500.1 430l5.6 10.2h-11.2Z" class="pt"/>
<path d="M501.3 445.3l5.6 10.2h-11.2Z" class="pt"/>
<path d="M470.8 477.6l5.6 10.2h-11.2Z" class="pt"/>
<path d="M492.6 490.4l5.6 10.2h-11.2Z" class="pt"/>
<path d="M440.5 497.4l5.6 10.2h-11.2Z" class="pt"/>
<path d="M200.5 523.3l5.6 10.2h-11.2Z" class="pt"/>
<path d="M203.1 548.6l5.6 10.2h-11.2Z" class="pt"/>
<path d="M237.6 544.1l5.6 10.2h-11.2Z" class="pt"/>
<path d="M263.9 516l5.6 10.2h-11.2Z" class="pt"/>
<path d="M276.9 535l5.6 10.2h-11.2Z" class="pt"/>
<path d="M309.4 505.4l5.6 10.2h-11.2Z" class="pt"/>
<path d="M322.3 503.4l5.6 10.2h-11.2Z" class="pt"/>
<path d="M325.8 502.6l5.6 10.2h-11.2Z" class="pt"/>
<path d="M333.4 509.2l5.6 10.2h-11.2Z" class="pt"/>
<path d="M353.4 510.8l5.6 10.2h-11.2Z" class="pt"/>
<path d="M363.4 507.6l5.6 10.2h-11.2Z" class="pt"/>
<path d="M376.6 502.9l5.6 10.2h-11.2Z" class="pt"/>
<path d="M320.3 526l5.6 10.2h-11.2Z" class="pt"/>
<path d="M370 531l5.6 10.2h-11.2Z" class="pt"/>
<path d="M392.1 523.9l5.6 10.2h-11.2Z" class="pt"/>
<path d="M411.5 525l5.6 10.2h-11.2Z" class="pt"/>
<path d="M411.5 536.1l5.6 10.2h-11.2Z" class="pt"/>
<path d="M381.1 554.7l5.6 10.2h-11.2Z" class="pt"/>
<path d="M417.4 502.9l5.6 10.2h-11.2Z" class="pt"/>
<path d="M502.1 542.1l5.6 10.2h-11.2Z" class="pt"/>
<path d="M222.4 576l5.6 10.2h-11.2Z" class="pt"/>
<path d="M283.2 574.6l5.6 10.2h-11.2Z" class="pt"/>
<path d="M288.2 584.5l5.6 10.2h-11.2Z" class="pt"/>
<path d="M272 618.1l5.6 10.2h-11.2Z" class="pt"/>
<path d="M226.4 630.3l5.6 10.2h-11.2Z" class="pt"/>
<path d="M295.7 628.9l5.6 10.2h-11.2Z" class="pt"/>
<path d="M182.6 641.1l5.6 10.2h-11.2Z" class="pt"/>
<path d="M281.6 657.9l5.6 10.2h-11.2Z" class="pt"/>
<path d="M211.6 663.1l5.6 10.2h-11.2Z" class="pt"/>
<path d="M301.4 585.1l5.6 10.2h-11.2Z" class="pt"/>
<path d="M339.9 580l5.6 10.2h-11.2Z" class="pt"/>
<path d="M336.4 624.4l5.6 10.2h-11.2Z" class="pt"/>
<path d="M317 643.1l5.6 10.2h-11.2Z" class="pt"/>
<path d="M345.9 642.7l5.6 10.2h-11.2Z" class="pt"/>
<path d="M353.6 658.9l5.6 10.2h-11.2Z" class="pt"/>
<path d="M461.6 602.7l5.6 10.2h-11.2Z" class="pt"/>
<path d="M517.4 592l5.6 10.2h-11.2Z" class="pt"/>
<path d="M480.7 629.9l5.6 10.2h-11.2Z" class="pt"/>
<path d="M547.4 633.3l5.6 10.2h-11.2Z" class="pt"/>
<path d="M454.3 663.1l5.6 10.2h-11.2Z" class="pt"/>
<path d="M597 593.5l5.6 10.2h-11.2Z" class="pt"/>
<path d="M609.2 591.3l5.6 10.2h-11.2Z" class="pt"/>
<path d="M266.1 668.8l5.6 10.2h-11.2Z" class="pt"/>
<path d="M336.4 666.8l5.6 10.2h-11.2Z" class="pt"/>
<path d="M362 703.9l5.6 10.2h-11.2Z" class="pt"/>
<path d="M451.1 678.6l5.6 10.2h-11.2Z" class="pt"/>
<path d="M545.1 682.2l5.6 10.2h-11.2Z" class="pt"/>
<path d="M225.3 432.8L234.3 448.2H216.3Z" fill="#0000ff"/>
<path d="M457 406.5L465 414.5L457 422.5L449 414.5Z" fill="#0000ff"/>
<rect x="550" y="368" width="11.5" height="11.5" fill="#0000ff"/>
<rect x="75" y="608.8" width="82.5" height="110.7" fill="#fff"/>
<text x="90" y="628.2" class="lt">sample</text>
<rect x="85" y="631.3" width="23" height="22.3" fill="#f2f2f2"/>
<text x="115.5" y="646.9" class="ll">TL5b</text>
<rect x="85" y="657.3" width="23" height="22.3" fill="#f2f2f2"/>
<text x="115.5" y="672.9" class="ll">TL11h</text>
<rect x="85" y="683.3" width="23" height="22.3" fill="#f2f2f2"/>
<text x="115.5" y="698.9" class="ll">TL11i</text>
<rect x="91.7" y="637.9" width="9.1" height="9.1" class="ps"/>
<path d="M97 662.8l6.1 6.1l-6.1 6.1l-6.1-6.1Z" class="pd"/>
<path d="M96.6 687.8l6.6 11.1h-13.2Z" class="pt"/>
<path d="M87.5 347.8L90.46 347.8L93.42 347.8L96.37 347.8L99.33 347.79L102.29 347.79L105.25 347.79L108.21 347.79L111.16 347.78L114.12 347.78L117.08 347.77L120.04 347.76L123 347.75L125.96 347.74L128.91 347.73L131.87 347.72L134.83 347.7L137.79 347.69L140.75 347.67L143.7 347.65L146.66 347.63L149.62 347.6L152.58 347.58L155.54 347.55L158.49 347.51L161.45 347.48L164.41 347.44L167.37 347.4L170.33 347.35L173.28 347.3L176.24 347.25L179.2 347.18L182.16 347.12L185.12 347.05L188.08 346.97L191.03 346.89L193.99 346.8L196.95 346.71L199.91 346.6L202.87 346.49L205.82 346.38L208.78 346.26L211.74 346.13L214.7 346L217.66 345.87L220.61 345.73L223.57 345.6L226.53 345.46L229.49 345.32L232.45 345.19L235.41 345.05L238.36 344.91L241.32 344.77L244.28 344.63L247.24 344.48L250.2 344.33L253.15 344.16L256.11 343.99L259.07 343.81L262.03 343.62L264.99 343.41L267.94 343.2L270.9 342.97L273.86 342.73L276.82 342.48L279.78 342.22L282.73 341.95L285.69 341.68L288.65 341.39L291.61 341.09L294.57 340.78L297.53 340.45L300.48 340.12L303.44 339.77L306.4 339.41L309.36 339.03L312.32 338.63L315.27 338.21L318.23 337.77L321.19 337.31L324.15 336.83L327.11 336.32L330.06 335.78L333.02 335.21L335.98 334.6L338.94 333.95L341.9 333.27L344.85 332.54L347.81 331.76L350.77 330.93L353.73 330.06L356.69 329.13L359.65 328.16L362.6 327.13L365.56 326.04L368.52 324.9L371.48 323.71L374.44 322.46L377.39 321.17L380.35 319.84L383.31 318.47L386.27 317.07L389.23 315.68L392.18 314.29L395.14 312.94L398.1 311.63L401.06 310.36L404.02 309.14L406.97 307.97L409.93 306.83L412.89 305.71L415.85 304.59L418.81 303.46L421.77 302.31L424.72 301.12L427.68 299.89L430.64 298.64L433.6 297.37L436.56 296.06L439.51 294.72L442.47 293.35L445.43 291.94L448.39 290.53L451.35 289.15L454.3 287.81L457.26 286.53L460.22 285.34L463.18 284.23L466.14 283.2L469.09 282.27L472.05 281.42L475.01 280.68L477.97 280.04L480.93 279.52L483.89 279.12L486.84 278.85L489.8 278.7L492.76 278.68L495.72 278.79L498.68 279.01L501.63 279.36L504.59 279.86L507.55 280.51L510.51 281.33L513.47 282.32L516.42 283.45L519.38 284.72L522.34 286.12L525.3 287.65L528.26 289.33L531.22 291.16L534.17 293.16L537.13 295.33L540.09 297.66L543.05 300.12L546.01 302.68L548.96 305.32L551.92 307.99L554.88 310.7L557.84 313.42L560.8 316.14L563.75 318.86L566.71 321.56L569.67 324.21L572.63 326.77L575.59 329.2L578.54 331.46L581.5 333.51L584.46 335.35L587.42 336.99L590.38 338.46L593.34 339.8L596.29 341.02L599.25 342.14L602.21 343.13L605.17 343.98L608.13 344.66L611.08 345.16L614.04 345.5L617 345.75L617 347.9L87.5 347.9Z" fill="#56B4E9" fill-opacity="0.8"/>
<path d="M87.5 347.7L90.46 347.65L93.42 347.59L96.37 347.53L99.33 347.47L102.29 347.4L105.25 347.33L108.21 347.25L111.16 347.16L114.12 347.06L117.08 346.94L120.04 346.8L123 346.61L125.96 346.39L128.91 346.11L131.87 345.78L134.83 345.39L137.79 344.94L140.75 344.44L143.7 343.88L146.66 343.26L149.62 342.59L152.58 341.88L155.54 341.11L158.49 340.29L161.45 339.42L164.41 338.51L167.37 337.56L170.33 336.56L173.28 335.52L176.24 334.43L179.2 333.31L182.16 332.15L185.12 330.96L188.08 329.75L191.03 328.53L193.99 327.31L196.95 326.11L199.91 324.94L202.87 323.79L205.82 322.7L208.78 321.66L211.74 320.7L214.7 319.82L217.66 319.04L220.61 318.36L223.57 317.82L226.53 317.39L229.49 317.06L232.45 316.79L235.41 316.57L238.36 316.37L241.32 316.15L244.28 315.91L247.24 315.66L250.2 315.4L253.15 315.15L256.11 314.91L259.07 314.62L262.03 314.15L264.99 313.47L267.94 312.6L270.9 311.59L273.86 310.46L276.82 309.25L279.78 307.98L282.73 306.66L285.69 305.3L288.65 303.9L291.61 302.47L294.57 301.03L297.53 299.61L300.48 298.23L303.44 296.91L306.4 295.68L309.36 294.56L312.32 293.53L315.27 292.59L318.23 291.73L321.19 290.94L324.15 290.24L327.11 289.64L330.06 289.18L333.02 288.86L335.98 288.73L338.94 288.78L341.9 289.03L344.85 289.47L347.81 290.11L350.77 290.91L353.73 291.86L356.69 292.94L359.65 294.1L362.6 295.34L365.56 296.62L368.52 297.89L371.48 299.13L374.44 300.29L377.39 301.34L380.35 302.3L383.31 303.17L386.27 304L389.23 304.79L392.18 305.59L395.14 306.4L398.1 307.25L401.06 308.16L404.02 309.15L406.97 310.24L409.93 311.41L412.89 312.65L415.85 313.93L418.81 315.23L421.77 316.52L424.72 317.8L427.68 319.09L430.64 320.42L433.6 321.81L436.56 323.28L439.51 324.76L442.47 326.14L445.43 327.39L448.39 328.53L451.35 329.57L454.3 330.53L457.26 331.43L460.22 332.26L463.18 333.02L466.14 333.71L469.09 334.33L472.05 334.86L475.01 335.32L477.97 335.72L480.93 336.07L483.89 336.39L486.84 336.69L489.8 336.98L492.76 337.27L495.72 337.58L498.68 337.89L501.63 338.22L504.59 338.57L507.55 338.93L510.51 339.32L513.47 339.73L516.42 340.15L519.38 340.57L522.34 340.99L525.3 341.4L528.26 341.79L531.22 342.14L534.17 342.46L537.13 342.75L540.09 343.02L543.05 343.26L546.01 343.48L548.96 343.68L551.92 343.87L554.88 344.05L557.84 344.22L560.8 344.37L563.75 344.51L566.71 344.63L569.67 344.74L572.63 344.83L575.59 344.91L578.54 344.97L581.5 345.03L584.46 345.08L587.42 345.13L590.38 345.17L593.34 345.22L596.29 345.27L599.25 345.33L602.21 345.39L605.17 345.46L608.13 345.53L611.08 345.6L614.04 345.68L617 345.75L617 347.9L87.5 347.9Z" fill="#009E73" fill-opacity="0.8"/>
<path d="M87.5 347.8L90.46 347.8L93.42 347.79L96.37 347.79L99.33 347.78L102.29 347.78L105.25 347.76L108.21 347.75L111.16 347.73L114.12 347.71L117.08 347.68L120.04 347.65L123 347.62L125.96 347.57L128.91 347.52L131.87 347.46L134.83 347.4L137.79 347.32L140.75 347.24L143.7 347.15L146.66 347.05L149.62 346.95L152.58 346.83L155.54 346.71L158.49 346.57L161.45 346.43L164.41 346.28L167.37 346.12L170.33 345.96L173.28 345.8L176.24 345.64L179.2 345.49L182.16 345.34L185.12 345.2L188.08 345.07L191.03 344.96L193.99 344.87L196.95 344.78L199.91 344.71L202.87 344.66L205.82 344.61L208.78 344.58L211.74 344.55L214.7 344.53L217.66 344.51L220.61 344.51L223.57 344.5L226.53 344.5L229.49 344.5L232.45 344.5L235.41 344.5L238.36 344.5L241.32 344.49L244.28 344.48L247.24 344.46L250.2 344.43L253.15 344.39L256.11 344.34L259.07 344.27L262.03 344.19L264.99 344.1L267.94 343.98L270.9 343.85L273.86 343.7L276.82 343.52L279.78 343.33L282.73 343.12L285.69 342.88L288.65 342.63L291.61 342.34L294.57 342.04L297.53 341.71L300.48 341.37L303.44 341.01L306.4 340.63L309.36 340.24L312.32 339.84L315.27 339.42L318.23 339L321.19 338.58L324.15 338.14L327.11 337.7L330.06 337.24L333.02 336.76L335.98 336.25L338.94 335.71L341.9 335.14L344.85 334.53L347.81 333.88L350.77 333.19L353.73 332.46L356.69 331.71L359.65 330.94L362.6 330.15L365.56 329.35L368.52 328.54L371.48 327.74L374.44 326.95L377.39 326.17L380.35 325.41L383.31 324.67L386.27 323.96L389.23 323.28L392.18 322.61L395.14 321.97L398.1 321.35L401.06 320.77L404.02 320.22L406.97 319.71L409.93 319.26L412.89 318.86L415.85 318.48L418.81 318.08L421.77 317.62L424.72 317.06L427.68 316.37L430.64 315.61L433.6 314.85L436.56 314.14L439.51 313.43L442.47 312.56L445.43 311.53L448.39 310.36L451.35 309.11L454.3 307.81L457.26 306.5L460.22 305.22L463.18 303.96L466.14 302.75L469.09 301.59L472.05 300.5L475.01 299.47L477.97 298.48L480.93 297.53L483.89 296.6L486.84 295.68L489.8 294.77L492.76 293.89L495.72 293.06L498.68 292.31L501.63 291.64L504.59 291.06L507.55 290.53L510.51 290.03L513.47 289.52L516.42 288.98L519.38 288.43L522.34 287.9L525.3 287.46L528.26 287.15L531.22 286.95L534.17 286.83L537.13 286.77L540.09 286.75L543.05 286.74L546.01 286.79L548.96 286.92L551.92 287.19L554.88 287.61L557.84 288.2L560.8 288.98L563.75 289.95L566.71 291.09L569.67 292.35L572.63 293.72L575.59 295.25L578.54 297.02L581.5 299.1L584.46 301.46L587.42 304L590.38 306.58L593.34 309.13L596.29 311.69L599.25 314.32L602.21 317.07L605.17 319.9L608.13 322.74L611.08 325.5L614.04 328.15L617 330.75L617 347.9L87.5 347.9Z" fill="#E69F00" fill-opacity="0.8"/>
<path d="M688.2 368.7L691.9 370.28L695.52 371.87L699.01 373.45L702.29 375.04L705.3 376.62L708.04 378.2L710.57 379.79L712.94 381.37L715.18 382.96L717.36 384.54L719.45 386.12L721.43 387.71L723.26 389.29L724.9 390.88L726.32 392.46L727.52 394.04L728.51 395.63L729.29 397.21L729.88 398.8L730.28 400.38L730.5 401.96L730.53 403.55L730.37 405.13L730.01 406.72L729.46 408.3L728.73 409.88L727.81 411.47L726.72 413.05L725.46 414.64L724.05 416.22L722.5 417.8L720.84 419.39L719.07 420.97L717.22 422.56L715.31 424.14L713.35 425.72L711.37 427.31L709.38 428.89L707.41 430.48L705.48 432.06L703.61 433.64L701.82 435.23L700.13 436.81L698.51 438.4L696.97 439.98L695.51 441.56L694.12 443.15L692.79 444.73L691.52 446.32L690.31 447.9L689.15 449.48L688.04 451.07L686.99 452.65L686.01 454.24L685.1 455.82L684.29 457.41L683.58 458.99L682.96 460.57L682.41 462.16L681.91 463.74L681.45 465.33L681 466.91L680.55 468.49L680.1 470.08L679.63 471.66L679.13 473.25L678.58 474.83L677.99 476.41L677.36 478L676.69 479.58L675.98 481.17L675.24 482.75L674.48 484.33L673.69 485.92L672.89 487.5L672.07 489.09L671.26 490.67L670.46 492.25L669.68 493.84L668.93 495.42L668.22 497.01L667.55 498.59L666.93 500.17L666.35 501.76L665.8 503.34L665.29 504.93L664.81 506.51L664.36 508.09L663.95 509.68L663.56 511.26L663.2 512.85L662.86 514.43L662.56 516.01L662.28 517.6L662.03 519.18L661.8 520.77L661.6 522.35L661.41 523.93L661.25 525.52L661.11 527.1L660.98 528.69L660.87 530.27L660.77 531.85L660.68 533.44L660.59 535.02L660.52 536.61L660.45 538.19L660.38 539.77L660.31 541.36L660.25 542.94L660.18 544.53L660.1 546.11L660.03 547.69L659.95 549.28L659.88 550.86L659.82 552.45L659.77 554.03L659.72 555.61L659.69 557.2L659.67 558.78L659.66 560.37L659.64 561.95L659.61 563.53L659.56 565.12L659.49 566.7L659.38 568.29L659.23 569.87L659.05 571.45L658.83 573.04L658.61 574.62L658.4 576.21L658.21 577.79L658.05 579.37L657.94 580.96L657.89 582.54L657.87 584.13L657.88 585.71L657.91 587.29L657.95 588.88L657.99 590.46L658.01 592.05L658.01 593.63L657.99 595.21L657.96 596.8L657.91 598.38L657.84 599.97L657.77 601.55L657.68 603.13L657.57 604.72L657.46 606.3L657.34 607.89L657.22 609.47L657.09 611.05L656.96 612.64L656.83 614.22L656.71 615.81L656.59 617.39L656.48 618.97L656.38 620.56L656.29 622.14L656.22 623.73L656.15 625.31L656.1 626.89L656.06 628.48L656.03 630.06L656.01 631.65L656 633.23L655.99 634.82L656 636.4L656.01 637.98L656.03 639.57L656.06 641.15L656.09 642.74L656.13 644.32L656.16 645.9L656.2 647.49L656.24 649.07L656.28 650.66L656.32 652.24L656.35 653.82L656.38 655.41L656.4 656.99L656.41 658.58L656.42 660.16L656.42 661.74L656.41 663.33L656.4 664.91L656.38 666.5L656.35 668.08L656.31 669.66L656.27 671.25L656.21 672.83L656.15 674.42L656.08 676L656.01 677.58L655.92 679.17L655.83 680.75L655.72 682.34L655.62 683.92L655.5 685.5L655.38 687.09L655.25 688.67L655.12 690.26L654.99 691.84L654.85 693.42L654.71 695.01L654.56 696.59L654.41 698.18L654.26 699.76L654.11 701.34L653.96 702.93L653.8 704.51L653.65 706.1L653.49 707.68L653.33 709.26L653.18 710.85L653.02 712.43L652.86 714.02L652.7 715.6L648.8 715.6L648.8 368.7Z" fill="#56B4E9" fill-opacity="0.8"/>
<path d="M658.2 368.7L659.17 370.28L660.15 371.87L661.16 373.45L662.22 375.04L663.35 376.62L664.54 378.2L665.81 379.79L667.13 381.37L668.48 382.96L669.84 384.54L671.2 386.12L672.53 387.71L673.84 389.29L675.14 390.88L676.46 392.46L677.81 394.04L679.19 395.63L680.64 397.21L682.15 398.8L683.73 400.38L685.34 401.96L686.96 403.55L688.56 405.13L690.13 406.72L691.63 408.3L693.07 409.88L694.44 411.47L695.73 413.05L696.97 414.64L698.13 416.22L699.23 417.8L700.27 419.39L701.24 420.97L702.15 422.56L703.01 424.14L703.82 425.72L704.57 427.31L705.26 428.89L705.9 430.48L706.48 432.06L706.99 433.64L707.45 435.23L707.84 436.81L708.16 438.4L708.41 439.98L708.59 441.56L708.69 443.15L708.71 444.73L708.66 446.32L708.55 447.9L708.39 449.48L708.18 451.07L707.94 452.65L707.67 454.24L707.37 455.82L707.05 457.41L706.68 458.99L706.27 460.57L705.82 462.16L705.32 463.74L704.76 465.33L704.15 466.91L703.49 468.49L702.79 470.08L702.06 471.66L701.31 473.25L700.56 474.83L699.8 476.41L699.06 478L698.33 479.58L697.61 481.17L696.9 482.75L696.2 484.33L695.52 485.92L694.85 487.5L694.19 489.09L693.55 490.67L692.92 492.25L692.3 493.84L691.68 495.42L691.07 497.01L690.45 498.59L689.83 500.17L689.19 501.76L688.54 503.34L687.87 504.93L687.17 506.51L686.45 508.09L685.71 509.68L684.94 511.26L684.14 512.85L683.32 514.43L682.48 516.01L681.61 517.6L680.73 519.18L679.82 520.77L678.91 522.35L677.98 523.93L677.06 525.52L676.15 527.1L675.26 528.69L674.39 530.27L673.55 531.85L672.73 533.44L671.94 535.02L671.16 536.61L670.41 538.19L669.67 539.77L668.95 541.36L668.24 542.94L667.55 544.53L666.89 546.11L666.25 547.69L665.66 549.28L665.11 550.86L664.61 552.45L664.15 554.03L663.74 555.61L663.38 557.2L663.06 558.78L662.79 560.37L662.57 561.95L662.39 563.53L662.23 565.12L662.11 566.7L662.01 568.29L661.92 569.87L661.84 571.45L661.77 573.04L661.7 574.62L661.62 576.21L661.53 577.79L661.44 579.37L661.33 580.96L661.22 582.54L661.09 584.13L660.96 585.71L660.83 587.29L660.7 588.88L660.57 590.46L660.45 592.05L660.34 593.63L660.24 595.21L660.15 596.8L660.09 598.38L660.04 599.97L660.02 601.55L660.02 603.13L660.06 604.72L660.12 606.3L660.22 607.89L660.35 609.47L660.5 611.05L660.67 612.64L660.86 614.22L661.05 615.81L661.25 617.39L661.45 618.97L661.64 620.56L661.83 622.14L662.01 623.73L662.18 625.31L662.34 626.89L662.48 628.48L662.62 630.06L662.74 631.65L662.84 633.23L662.92 634.82L662.99 636.4L663.04 637.98L663.08 639.57L663.09 641.15L663.09 642.74L663.09 644.32L663.06 645.9L663.04 647.49L663 649.07L662.95 650.66L662.9 652.24L662.84 653.82L662.77 655.41L662.69 656.99L662.6 658.58L662.48 660.16L662.35 661.74L662.21 663.33L662.04 664.91L661.85 666.5L661.65 668.08L661.43 669.66L661.19 671.25L660.94 672.83L660.68 674.42L660.41 676L660.12 677.58L659.83 679.17L659.52 680.75L659.21 682.34L658.9 683.92L658.58 685.5L658.26 687.09L657.93 688.67L657.61 690.26L657.28 691.84L656.96 693.42L656.64 695.01L656.32 696.59L656 698.18L655.69 699.76L655.38 701.34L655.08 702.93L654.77 704.51L654.47 706.1L654.17 707.68L653.88 709.26L653.58 710.85L653.29 712.43L652.99 714.02L652.7 715.6L648.8 715.6L648.8 368.7Z" fill="#009E73" fill-opacity="0.8"/>
<path d="M727.6 368.7L731.85 370.28L735.96 371.87L739.77 373.45L743.17 375.04L746.11 376.62L748.66 378.2L750.88 379.79L752.77 381.37L754.23 382.96L755.15 384.54L755.43 386.12L755.05 387.71L754.05 389.29L752.47 390.88L750.37 392.46L747.82 394.04L744.92 395.63L741.76 397.21L738.44 398.8L735.05 400.38L731.7 401.96L728.48 403.55L725.41 405.13L722.48 406.72L719.69 408.3L717.01 409.88L714.44 411.47L711.97 413.05L709.59 414.64L707.3 416.22L705.1 417.8L703.03 419.39L701.16 420.97L699.52 422.56L698.09 424.14L696.83 425.72L695.72 427.31L694.69 428.89L693.72 430.48L692.81 432.06L691.98 433.64L691.24 435.23L690.6 436.81L690.09 438.4L689.67 439.98L689.32 441.56L688.99 443.15L688.65 444.73L688.28 446.32L687.82 447.9L687.28 449.48L686.65 451.07L685.95 452.65L685.16 454.24L684.3 455.82L683.36 457.41L682.36 458.99L681.32 460.57L680.23 462.16L679.13 463.74L678.02 465.33L676.92 466.91L675.83 468.49L674.73 470.08L673.62 471.66L672.5 473.25L671.36 474.83L670.2 476.41L669.02 478L667.85 479.58L666.69 481.17L665.56 482.75L664.47 484.33L663.43 485.92L662.46 487.5L661.56 489.09L660.73 490.67L659.98 492.25L659.33 493.84L658.76 495.42L658.28 497.01L657.89 498.59L657.58 500.17L657.32 501.76L657.12 503.34L656.96 504.93L656.83 506.51L656.74 508.09L656.67 509.68L656.63 511.26L656.6 512.85L656.6 514.43L656.6 516.01L656.62 517.6L656.66 519.18L656.7 520.77L656.75 522.35L656.81 523.93L656.87 525.52L656.95 527.1L657.02 528.69L657.11 530.27L657.19 531.85L657.26 533.44L657.32 535.02L657.37 536.61L657.4 538.19L657.4 539.77L657.37 541.36L657.31 542.94L657.22 544.53L657.09 546.11L656.94 547.69L656.74 549.28L656.51 550.86L656.25 552.45L655.97 554.03L655.68 555.61L655.4 557.2L655.14 558.78L654.91 560.37L654.71 561.95L654.55 563.53L654.41 565.12L654.29 566.7L654.18 568.29L654.08 569.87L653.97 571.45L653.85 573.04L653.73 574.62L653.63 576.21L653.57 577.79L653.58 579.37L653.66 580.96L653.83 582.54L654.06 584.13L654.34 585.71L654.64 587.29L654.95 588.88L655.24 590.46L655.5 592.05L655.72 593.63L655.9 595.21L656.05 596.8L656.16 598.38L656.25 599.97L656.32 601.55L656.36 603.13L656.39 604.72L656.4 606.3L656.41 607.89L656.4 609.47L656.39 611.05L656.36 612.64L656.31 614.22L656.25 615.81L656.18 617.39L656.08 618.97L655.97 620.56L655.85 622.14L655.7 623.73L655.55 625.31L655.39 626.89L655.22 628.48L655.05 630.06L654.88 631.65L654.72 633.23L654.56 634.82L654.42 636.4L654.29 637.98L654.17 639.57L654.07 641.15L653.97 642.74L653.89 644.32L653.81 645.9L653.74 647.49L653.68 649.07L653.62 650.66L653.57 652.24L653.51 653.82L653.46 655.41L653.41 656.99L653.35 658.58L653.29 660.16L653.23 661.74L653.17 663.33L653.11 664.91L653.05 666.5L652.99 668.08L652.94 669.66L652.88 671.25L652.83 672.83L652.78 674.42L652.74 676L652.7 677.58L652.67 679.17L652.64 680.75L652.62 682.34L652.59 683.92L652.57 685.5L652.55 687.09L652.53 688.67L652.5 690.26L652.47 691.84L652.44 693.42L652.4 695.01L652.36 696.59L652.3 698.18L652.24 699.76L652.17 701.34L652.09 702.93L652.01 704.51L651.92 706.1L651.82 707.68L651.72 709.26L651.62 710.85L651.52 712.43L651.41 714.02L651.3 715.6L648.8 715.6L648.8 368.7Z" fill="#E69F00" fill-opacity="0.8"/>
<path d="M87.5 347.8L90.46 347.8L93.42 347.8L96.37 347.8L99.33 347.79L102.29 347.79L105.25 347.79L108.21 347.79L111.16 347.78L114.12 347.78L117.08 347.77L120.04 347.76L123 347.75L125.96 347.74L128.91 347.73L131.87 347.72L134.83 347.7L137.79 347.69L140.75 347.67L143.7 347.65L146.66 347.63L149.62 347.6L152.58 347.58L155.54 347.55L158.49 347.51L161.45 347.48L164.41 347.44L167.37 347.4L170.33 347.35L173.28 347.3L176.24 347.25L179.2 347.18L182.16 347.12L185.12 347.05L188.08 346.97L191.03 346.89L193.99 346.8L196.95 346.71L199.91 346.6L202.87 346.49L205.82 346.38L208.78 346.26L211.74 346.13L214.7 346L217.66 345.87L220.61 345.73L223.57 345.6L226.53 345.46L229.49 345.32L232.45 345.19L235.41 345.05L238.36 344.91L241.32 344.77L244.28 344.63L247.24 344.48L250.2 344.33L253.15 344.16L256.11 343.99L259.07 343.81L262.03 343.62L264.99 343.41L267.94 343.2L270.9 342.97L273.86 342.73L276.82 342.48L279.78 342.22L282.73 341.95L285.69 341.68L288.65 341.39L291.61 341.09L294.57 340.78L297.53 340.45L300.48 340.12L303.44 339.77L306.4 339.41L309.36 339.03L312.32 338.63L315.27 338.21L318.23 337.77L321.19 337.31L324.15 336.83L327.11 336.32L330.06 335.78L333.02 335.21L335.98 334.6L338.94 333.95L341.9 333.27L344.85 332.54L347.81 331.76L350.77 330.93L353.73 330.06L356.69 329.13L359.65 328.16L362.6 327.13L365.56 326.04L368.52 324.9L371.48 323.71L374.44 322.46L377.39 321.17L380.35 319.84L383.31 318.47L386.27 317.07L389.23 315.68L392.18 314.29L395.14 312.94L398.1 311.63L401.06 310.36L404.02 309.14L406.97 307.97L409.93 306.83L412.89 305.71L415.85 304.59L418.81 303.46L421.77 302.31L424.72 301.12L427.68 299.89L430.64 298.64L433.6 297.37L436.56 296.06L439.51 294.72L442.47 293.35L445.43 291.94L448.39 290.53L451.35 289.15L454.3 287.81L457.26 286.53L460.22 285.34L463.18 284.23L466.14 283.2L469.09 282.27L472.05 281.42L475.01 280.68L477.97 280.04L480.93 279.52L483.89 279.12L486.84 278.85L489.8 278.7L492.76 278.68L495.72 278.79L498.68 279.01L501.63 279.36L504.59 279.86L507.55 280.51L510.51 281.33L513.47 282.32L516.42 283.45L519.38 284.72L522.34 286.12L525.3 287.65L528.26 289.33L531.22 291.16L534.17 293.16L537.13 295.33L540.09 297.66L543.05 300.12L546.01 302.68L548.96 305.32L551.92 307.99L554.88 310.7L557.84 313.42L560.8 316.14L563.75 318.86L566.71 321.56L569.67 324.21L572.63 326.77L575.59 329.2L578.54 331.46L581.5 333.51L584.46 335.35L587.42 336.99L590.38 338.46L593.34 339.8L596.29 341.02L599.25 342.14L602.21 343.13L605.17 343.98L608.13 344.66L611.08 345.16L614.04 345.5L617 345.75" fill="none" stroke="#000" stroke-width="1.45" stroke-linejoin="round"/>
<path d="M87.5 347.7L90.46 347.65L93.42 347.59L96.37 347.53L99.33 347.47L102.29 347.4L105.25 347.33L108.21 347.25L111.16 347.16L114.12 347.06L117.08 346.94L120.04 346.8L123 346.61L125.96 346.39L128.91 346.11L131.87 345.78L134.83 345.39L137.79 344.94L140.75 344.44L143.7 343.88L146.66 343.26L149.62 342.59L152.58 341.88L155.54 341.11L158.49 340.29L161.45 339.42L164.41 338.51L167.37 337.56L170.33 336.56L173.28 335.52L176.24 334.43L179.2 333.31L182.16 332.15L185.12 330.96L188.08 329.75L191.03 328.53L193.99 327.31L196.95 326.11L199.91 324.94L202.87 323.79L205.82 322.7L208.78 321.66L211.74 320.7L214.7 319.82L217.66 319.04L220.61 318.36L223.57 317.82L226.53 317.39L229.49 317.06L232.45 316.79L235.41 316.57L238.36 316.37L241.32 316.15L244.28 315.91L247.24 315.66L250.2 315.4L253.15 315.15L256.11 314.91L259.07 314.62L262.03 314.15L264.99 313.47L267.94 312.6L270.9 311.59L273.86 310.46L276.82 309.25L279.78 307.98L282.73 306.66L285.69 305.3L288.65 303.9L291.61 302.47L294.57 301.03L297.53 299.61L300.48 298.23L303.44 296.91L306.4 295.68L309.36 294.56L312.32 293.53L315.27 292.59L318.23 291.73L321.19 290.94L324.15 290.24L327.11 289.64L330.06 289.18L333.02 288.86L335.98 288.73L338.94 288.78L341.9 289.03L344.85 289.47L347.81 290.11L350.77 290.91L353.73 291.86L356.69 292.94L359.65 294.1L362.6 295.34L365.56 296.62L368.52 297.89L371.48 299.13L374.44 300.29L377.39 301.34L380.35 302.3L383.31 303.17L386.27 304L389.23 304.79L392.18 305.59L395.14 306.4L398.1 307.25L401.06 308.16L404.02 309.15L406.97 310.24L409.93 311.41L412.89 312.65L415.85 313.93L418.81 315.23L421.77 316.52L424.72 317.8L427.68 319.09L430.64 320.42L433.6 321.81L436.56 323.28L439.51 324.76L442.47 326.14L445.43 327.39L448.39 328.53L451.35 329.57L454.3 330.53L457.26 331.43L460.22 332.26L463.18 333.02L466.14 333.71L469.09 334.33L472.05 334.86L475.01 335.32L477.97 335.72L480.93 336.07L483.89 336.39L486.84 336.69L489.8 336.98L492.76 337.27L495.72 337.58L498.68 337.89L501.63 338.22L504.59 338.57L507.55 338.93L510.51 339.32L513.47 339.73L516.42 340.15L519.38 340.57L522.34 340.99L525.3 341.4L528.26 341.79L531.22 342.14L534.17 342.46L537.13 342.75L540.09 343.02L543.05 343.26L546.01 343.48L548.96 343.68L551.92 343.87L554.88 344.05L557.84 344.22L560.8 344.37L563.75 344.51L566.71 344.63L569.67 344.74L572.63 344.83L575.59 344.91L578.54 344.97L581.5 345.03L584.46 345.08L587.42 345.13L590.38 345.17L593.34 345.22L596.29 345.27L599.25 345.33L602.21 345.39L605.17 345.46L608.13 345.53L611.08 345.6L614.04 345.68L617 345.75" fill="none" stroke="#000" stroke-width="1.45" stroke-linejoin="round"/>
<path d="M87.5 347.8L90.46 347.8L93.42 347.79L96.37 347.79L99.33 347.78L102.29 347.78L105.25 347.76L108.21 347.75L111.16 347.73L114.12 347.71L117.08 347.68L120.04 347.65L123 347.62L125.96 347.57L128.91 347.52L131.87 347.46L134.83 347.4L137.79 347.32L140.75 347.24L143.7 347.15L146.66 347.05L149.62 346.95L152.58 346.83L155.54 346.71L158.49 346.57L161.45 346.43L164.41 346.28L167.37 346.12L170.33 345.96L173.28 345.8L176.24 345.64L179.2 345.49L182.16 345.34L185.12 345.2L188.08 345.07L191.03 344.96L193.99 344.87L196.95 344.78L199.91 344.71L202.87 344.66L205.82 344.61L208.78 344.58L211.74 344.55L214.7 344.53L217.66 344.51L220.61 344.51L223.57 344.5L226.53 344.5L229.49 344.5L232.45 344.5L235.41 344.5L238.36 344.5L241.32 344.49L244.28 344.48L247.24 344.46L250.2 344.43L253.15 344.39L256.11 344.34L259.07 344.27L262.03 344.19L264.99 344.1L267.94 343.98L270.9 343.85L273.86 343.7L276.82 343.52L279.78 343.33L282.73 343.12L285.69 342.88L288.65 342.63L291.61 342.34L294.57 342.04L297.53 341.71L300.48 341.37L303.44 341.01L306.4 340.63L309.36 340.24L312.32 339.84L315.27 339.42L318.23 339L321.19 338.58L324.15 338.14L327.11 337.7L330.06 337.24L333.02 336.76L335.98 336.25L338.94 335.71L341.9 335.14L344.85 334.53L347.81 333.88L350.77 333.19L353.73 332.46L356.69 331.71L359.65 330.94L362.6 330.15L365.56 329.35L368.52 328.54L371.48 327.74L374.44 326.95L377.39 326.17L380.35 325.41L383.31 324.67L386.27 323.96L389.23 323.28L392.18 322.61L395.14 321.97L398.1 321.35L401.06 320.77L404.02 320.22L406.97 319.71L409.93 319.26L412.89 318.86L415.85 318.48L418.81 318.08L421.77 317.62L424.72 317.06L427.68 316.37L430.64 315.61L433.6 314.85L436.56 314.14L439.51 313.43L442.47 312.56L445.43 311.53L448.39 310.36L451.35 309.11L454.3 307.81L457.26 306.5L460.22 305.22L463.18 303.96L466.14 302.75L469.09 301.59L472.05 300.5L475.01 299.47L477.97 298.48L480.93 297.53L483.89 296.6L486.84 295.68L489.8 294.77L492.76 293.89L495.72 293.06L498.68 292.31L501.63 291.64L504.59 291.06L507.55 290.53L510.51 290.03L513.47 289.52L516.42 288.98L519.38 288.43L522.34 287.9L525.3 287.46L528.26 287.15L531.22 286.95L534.17 286.83L537.13 286.77L540.09 286.75L543.05 286.74L546.01 286.79L548.96 286.92L551.92 287.19L554.88 287.61L557.84 288.2L560.8 288.98L563.75 289.95L566.71 291.09L569.67 292.35L572.63 293.72L575.59 295.25L578.54 297.02L581.5 299.1L584.46 301.46L587.42 304L590.38 306.58L593.34 309.13L596.29 311.69L599.25 314.32L602.21 317.07L605.17 319.9L608.13 322.74L611.08 325.5L614.04 328.15L617 330.75" fill="none" stroke="#000" stroke-width="1.45" stroke-linejoin="round"/>
<path d="M688.2 368.7L691.9 370.28L695.52 371.87L699.01 373.45L702.29 375.04L705.3 376.62L708.04 378.2L710.57 379.79L712.94 381.37L715.18 382.96L717.36 384.54L719.45 386.12L721.43 387.71L723.26 389.29L724.9 390.88L726.32 392.46L727.52 394.04L728.51 395.63L729.29 397.21L729.88 398.8L730.28 400.38L730.5 401.96L730.53 403.55L730.37 405.13L730.01 406.72L729.46 408.3L728.73 409.88L727.81 411.47L726.72 413.05L725.46 414.64L724.05 416.22L722.5 417.8L720.84 419.39L719.07 420.97L717.22 422.56L715.31 424.14L713.35 425.72L711.37 427.31L709.38 428.89L707.41 430.48L705.48 432.06L703.61 433.64L701.82 435.23L700.13 436.81L698.51 438.4L696.97 439.98L695.51 441.56L694.12 443.15L692.79 444.73L691.52 446.32L690.31 447.9L689.15 449.48L688.04 451.07L686.99 452.65L686.01 454.24L685.1 455.82L684.29 457.41L683.58 458.99L682.96 460.57L682.41 462.16L681.91 463.74L681.45 465.33L681 466.91L680.55 468.49L680.1 470.08L679.63 471.66L679.13 473.25L678.58 474.83L677.99 476.41L677.36 478L676.69 479.58L675.98 481.17L675.24 482.75L674.48 484.33L673.69 485.92L672.89 487.5L672.07 489.09L671.26 490.67L670.46 492.25L669.68 493.84L668.93 495.42L668.22 497.01L667.55 498.59L666.93 500.17L666.35 501.76L665.8 503.34L665.29 504.93L664.81 506.51L664.36 508.09L663.95 509.68L663.56 511.26L663.2 512.85L662.86 514.43L662.56 516.01L662.28 517.6L662.03 519.18L661.8 520.77L661.6 522.35L661.41 523.93L661.25 525.52L661.11 527.1L660.98 528.69L660.87 530.27L660.77 531.85L660.68 533.44L660.59 535.02L660.52 536.61L660.45 538.19L660.38 539.77L660.31 541.36L660.25 542.94L660.18 544.53L660.1 546.11L660.03 547.69L659.95 549.28L659.88 550.86L659.82 552.45L659.77 554.03L659.72 555.61L659.69 557.2L659.67 558.78L659.66 560.37L659.64 561.95L659.61 563.53L659.56 565.12L659.49 566.7L659.38 568.29L659.23 569.87L659.05 571.45L658.83 573.04L658.61 574.62L658.4 576.21L658.21 577.79L658.05 579.37L657.94 580.96L657.89 582.54L657.87 584.13L657.88 585.71L657.91 587.29L657.95 588.88L657.99 590.46L658.01 592.05L658.01 593.63L657.99 595.21L657.96 596.8L657.91 598.38L657.84 599.97L657.77 601.55L657.68 603.13L657.57 604.72L657.46 606.3L657.34 607.89L657.22 609.47L657.09 611.05L656.96 612.64L656.83 614.22L656.71 615.81L656.59 617.39L656.48 618.97L656.38 620.56L656.29 622.14L656.22 623.73L656.15 625.31L656.1 626.89L656.06 628.48L656.03 630.06L656.01 631.65L656 633.23L655.99 634.82L656 636.4L656.01 637.98L656.03 639.57L656.06 641.15L656.09 642.74L656.13 644.32L656.16 645.9L656.2 647.49L656.24 649.07L656.28 650.66L656.32 652.24L656.35 653.82L656.38 655.41L656.4 656.99L656.41 658.58L656.42 660.16L656.42 661.74L656.41 663.33L656.4 664.91L656.38 666.5L656.35 668.08L656.31 669.66L656.27 671.25L656.21 672.83L656.15 674.42L656.08 676L656.01 677.58L655.92 679.17L655.83 680.75L655.72 682.34L655.62 683.92L655.5 685.5L655.38 687.09L655.25 688.67L655.12 690.26L654.99 691.84L654.85 693.42L654.71 695.01L654.56 696.59L654.41 698.18L654.26 699.76L654.11 701.34L653.96 702.93L653.8 704.51L653.65 706.1L653.49 707.68L653.33 709.26L653.18 710.85L653.02 712.43L652.86 714.02L652.7 715.6" fill="none" stroke="#000" stroke-width="1.45" stroke-linejoin="round"/>
<path d="M658.2 368.7L659.17 370.28L660.15 371.87L661.16 373.45L662.22 375.04L663.35 376.62L664.54 378.2L665.81 379.79L667.13 381.37L668.48 382.96L669.84 384.54L671.2 386.12L672.53 387.71L673.84 389.29L675.14 390.88L676.46 392.46L677.81 394.04L679.19 395.63L680.64 397.21L682.15 398.8L683.73 400.38L685.34 401.96L686.96 403.55L688.56 405.13L690.13 406.72L691.63 408.3L693.07 409.88L694.44 411.47L695.73 413.05L696.97 414.64L698.13 416.22L699.23 417.8L700.27 419.39L701.24 420.97L702.15 422.56L703.01 424.14L703.82 425.72L704.57 427.31L705.26 428.89L705.9 430.48L706.48 432.06L706.99 433.64L707.45 435.23L707.84 436.81L708.16 438.4L708.41 439.98L708.59 441.56L708.69 443.15L708.71 444.73L708.66 446.32L708.55 447.9L708.39 449.48L708.18 451.07L707.94 452.65L707.67 454.24L707.37 455.82L707.05 457.41L706.68 458.99L706.27 460.57L705.82 462.16L705.32 463.74L704.76 465.33L704.15 466.91L703.49 468.49L702.79 470.08L702.06 471.66L701.31 473.25L700.56 474.83L699.8 476.41L699.06 478L698.33 479.58L697.61 481.17L696.9 482.75L696.2 484.33L695.52 485.92L694.85 487.5L694.19 489.09L693.55 490.67L692.92 492.25L692.3 493.84L691.68 495.42L691.07 497.01L690.45 498.59L689.83 500.17L689.19 501.76L688.54 503.34L687.87 504.93L687.17 506.51L686.45 508.09L685.71 509.68L684.94 511.26L684.14 512.85L683.32 514.43L682.48 516.01L681.61 517.6L680.73 519.18L679.82 520.77L678.91 522.35L677.98 523.93L677.06 525.52L676.15 527.1L675.26 528.69L674.39 530.27L673.55 531.85L672.73 533.44L671.94 535.02L671.16 536.61L670.41 538.19L669.67 539.77L668.95 541.36L668.24 542.94L667.55 544.53L666.89 546.11L666.25 547.69L665.66 549.28L665.11 550.86L664.61 552.45L664.15 554.03L663.74 555.61L663.38 557.2L663.06 558.78L662.79 560.37L662.57 561.95L662.39 563.53L662.23 565.12L662.11 566.7L662.01 568.29L661.92 569.87L661.84 571.45L661.77 573.04L661.7 574.62L661.62 576.21L661.53 577.79L661.44 579.37L661.33 580.96L661.22 582.54L661.09 584.13L660.96 585.71L660.83 587.29L660.7 588.88L660.57 590.46L660.45 592.05L660.34 593.63L660.24 595.21L660.15 596.8L660.09 598.38L660.04 599.97L660.02 601.55L660.02 603.13L660.06 604.72L660.12 606.3L660.22 607.89L660.35 609.47L660.5 611.05L660.67 612.64L660.86 614.22L661.05 615.81L661.25 617.39L661.45 618.97L661.64 620.56L661.83 622.14L662.01 623.73L662.18 625.31L662.34 626.89L662.48 628.48L662.62 630.06L662.74 631.65L662.84 633.23L662.92 634.82L662.99 636.4L663.04 637.98L663.08 639.57L663.09 641.15L663.09 642.74L663.09 644.32L663.06 645.9L663.04 647.49L663 649.07L662.95 650.66L662.9 652.24L662.84 653.82L662.77 655.41L662.69 656.99L662.6 658.58L662.48 660.16L662.35 661.74L662.21 663.33L662.04 664.91L661.85 666.5L661.65 668.08L661.43 669.66L661.19 671.25L660.94 672.83L660.68 674.42L660.41 676L660.12 677.58L659.83 679.17L659.52 680.75L659.21 682.34L658.9 683.92L658.58 685.5L658.26 687.09L657.93 688.67L657.61 690.26L657.28 691.84L656.96 693.42L656.64 695.01L656.32 696.59L656 698.18L655.69 699.76L655.38 701.34L655.08 702.93L654.77 704.51L654.47 706.1L654.17 707.68L653.88 709.26L653.58 710.85L653.29 712.43L652.99 714.02L652.7 715.6" fill="none" stroke="#000" stroke-width="1.45" stroke-linejoin="round"/>
<path d="M727.6 368.7L731.85 370.28L735.96 371.87L739.77 373.45L743.17 375.04L746.11 376.62L748.66 378.2L750.88 379.79L752.77 381.37L754.23 382.96L755.15 384.54L755.43 386.12L755.05 387.71L754.05 389.29L752.47 390.88L750.37 392.46L747.82 394.04L744.92 395.63L741.76 397.21L738.44 398.8L735.05 400.38L731.7 401.96L728.48 403.55L725.41 405.13L722.48 406.72L719.69 408.3L717.01 409.88L714.44 411.47L711.97 413.05L709.59 414.64L707.3 416.22L705.1 417.8L703.03 419.39L701.16 420.97L699.52 422.56L698.09 424.14L696.83 425.72L695.72 427.31L694.69 428.89L693.72 430.48L692.81 432.06L691.98 433.64L691.24 435.23L690.6 436.81L690.09 438.4L689.67 439.98L689.32 441.56L688.99 443.15L688.65 444.73L688.28 446.32L687.82 447.9L687.28 449.48L686.65 451.07L685.95 452.65L685.16 454.24L684.3 455.82L683.36 457.41L682.36 458.99L681.32 460.57L680.23 462.16L679.13 463.74L678.02 465.33L676.92 466.91L675.83 468.49L674.73 470.08L673.62 471.66L672.5 473.25L671.36 474.83L670.2 476.41L669.02 478L667.85 479.58L666.69 481.17L665.56 482.75L664.47 484.33L663.43 485.92L662.46 487.5L661.56 489.09L660.73 490.67L659.98 492.25L659.33 493.84L658.76 495.42L658.28 497.01L657.89 498.59L657.58 500.17L657.32 501.76L657.12 503.34L656.96 504.93L656.83 506.51L656.74 508.09L656.67 509.68L656.63 511.26L656.6 512.85L656.6 514.43L656.6 516.01L656.62 517.6L656.66 519.18L656.7 520.77L656.75 522.35L656.81 523.93L656.87 525.52L656.95 527.1L657.02 528.69L657.11 530.27L657.19 531.85L657.26 533.44L657.32 535.02L657.37 536.61L657.4 538.19L657.4 539.77L657.37 541.36L657.31 542.94L657.22 544.53L657.09 546.11L656.94 547.69L656.74 549.28L656.51 550.86L656.25 552.45L655.97 554.03L655.68 555.61L655.4 557.2L655.14 558.78L654.91 560.37L654.71 561.95L654.55 563.53L654.41 565.12L654.29 566.7L654.18 568.29L654.08 569.87L653.97 571.45L653.85 573.04L653.73 574.62L653.63 576.21L653.57 577.79L653.58 579.37L653.66 580.96L653.83 582.54L654.06 584.13L654.34 585.71L654.64 587.29L654.95 588.88L655.24 590.46L655.5 592.05L655.72 593.63L655.9 595.21L656.05 596.8L656.16 598.38L656.25 599.97L656.32 601.55L656.36 603.13L656.39 604.72L656.4 606.3L656.41 607.89L656.4 609.47L656.39 611.05L656.36 612.64L656.31 614.22L656.25 615.81L656.18 617.39L656.08 618.97L655.97 620.56L655.85 622.14L655.7 623.73L655.55 625.31L655.39 626.89L655.22 628.48L655.05 630.06L654.88 631.65L654.72 633.23L654.56 634.82L654.42 636.4L654.29 637.98L654.17 639.57L654.07 641.15L653.97 642.74L653.89 644.32L653.81 645.9L653.74 647.49L653.68 649.07L653.62 650.66L653.57 652.24L653.51 653.82L653.46 655.41L653.41 656.99L653.35 658.58L653.29 660.16L653.23 661.74L653.17 663.33L653.11 664.91L653.05 666.5L652.99 668.08L652.94 669.66L652.88 671.25L652.83 672.83L652.78 674.42L652.74 676L652.7 677.58L652.67 679.17L652.64 680.75L652.62 682.34L652.59 683.92L652.57 685.5L652.55 687.09L652.53 688.67L652.5 690.26L652.47 691.84L652.44 693.42L652.4 695.01L652.36 696.59L652.3 698.18L652.24 699.76L652.17 701.34L652.09 702.93L652.01 704.51L651.92 706.1L651.82 707.68L651.72 709.26L651.62 710.85L651.52 712.43L651.41 714.02L651.3 715.6" fill="none" stroke="#000" stroke-width="1.45" stroke-linejoin="round"/>
</g>
</svg>
</body></html>
